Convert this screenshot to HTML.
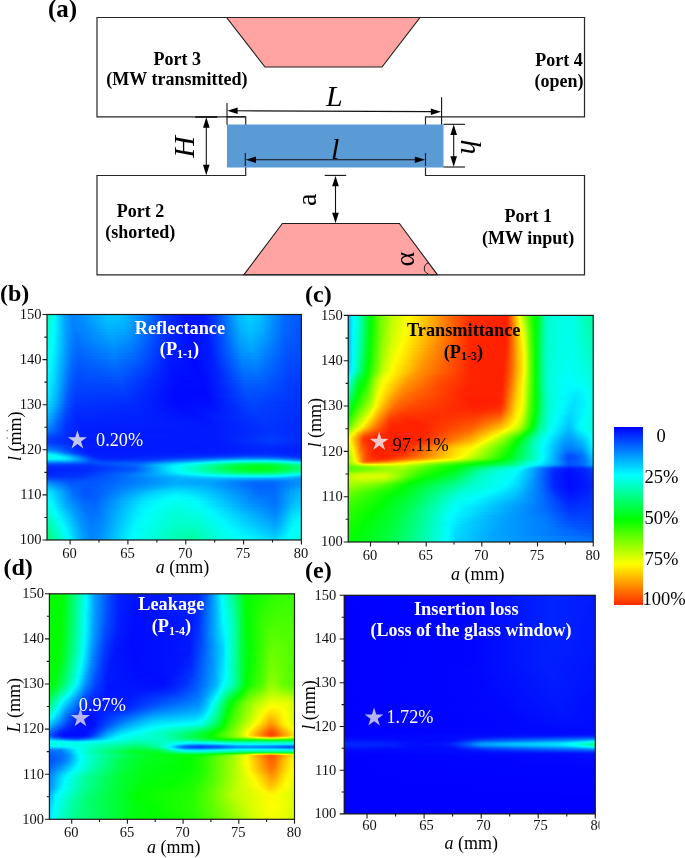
<!DOCTYPE html>
<html><head><meta charset="utf-8">
<style>
html,body{margin:0;padding:0;background:#fff;width:685px;height:858px;overflow:hidden}
body{position:relative;font-family:"Liberation Serif",serif}
.f{position:absolute;overflow:hidden}
.f i{display:block}
svg{position:absolute;left:0;top:0;will-change:transform}
svg text{font-family:"Liberation Serif",serif}
</style></head><body>
<div class="f" style="left:47px;top:314px;width:254px;height:226px"><i style="height:3px;background:linear-gradient(90deg,#00ffb2,#00faff 8px,#00a7ff 17px,#0087ff 24px,#008bff 33px,#00c3ff 59px,#00c2ff 74px,#0098ff 91px,#0037ff 117px,#0012ff 138px,#0015ff 156px,#0036ff 167px,#00baff 192px,#00d1ff 202px,#00c0ff 213px,#006aff 237px,#0059ff 253px)"></i><i style="height:3px;background:linear-gradient(90deg,#00ffb7,#00fffb 7px,#00a1ff 18px,#0085ff 25px,#008cff 35px,#00c0ff 60px,#00bdff 75px,#0092ff 92px,#0034ff 118px,#0011ff 140px,#0016ff 157px,#003aff 168px,#00b8ff 192px,#00ceff 202px,#00beff 213px,#0069ff 237px,#0058ff 253px)"></i><i style="height:3px;background:linear-gradient(90deg,#00ffbc,#00fffc 7px,#00a2ff 18px,#0085ff 25px,#008aff 35px,#00bcff 60px,#00b8ff 76px,#0088ff 94px,#0033ff 118px,#0010ff 140px,#0016ff 157px,#0038ff 168px,#00b9ff 193px,#00ccff 203px,#00b8ff 214px,#0068ff 237px,#0057ff 253px)"></i><i style="height:3px;background:linear-gradient(90deg,#00ffc1,#00fffe 7px,#00a3ff 18px,#0082ff 26px,#0089ff 36px,#00b8ff 61px,#00b2ff 77px,#0081ff 95px,#0032ff 118px,#0010ff 140px,#0015ff 157px,#0037ff 168px,#00b6ff 193px,#00c8ff 203px,#00b5ff 214px,#0067ff 237px,#0057ff 253px)"></i><i style="height:3px;background:linear-gradient(90deg,#00ffc6,#00feff 7px,#00a3ff 18px,#0081ff 26px,#0085ff 36px,#00b3ff 61px,#00aeff 77px,#007aff 96px,#002fff 119px,#000fff 141px,#0016ff 158px,#003fff 170px,#00b2ff 193px,#00c5ff 203px,#00b2ff 214px,#0065ff 237px,#0056ff 253px)"></i><i style="height:3px;background:linear-gradient(90deg,#00ffcb,#00fcff 7px,#009cff 19px,#007dff 27px,#0086ff 38px,#00afff 62px,#00a7ff 78px,#0070ff 98px,#002cff 120px,#000eff 142px,#0018ff 159px,#0042ff 171px,#00afff 193px,#00c1ff 203px,#00afff 214px,#0064ff 237px,#0055ff 253px)"></i><i style="height:3px;background:linear-gradient(90deg,#00ffcf,#00faff 7px,#0096ff 20px,#007aff 28px,#0086ff 40px,#00aaff 63px,#00a0ff 79px,#0065ff 100px,#0026ff 122px,#000dff 144px,#0019ff 160px,#004aff 173px,#00abff 193px,#00bdff 204px,#00a5ff 216px,#0062ff 237px,#0054ff 253px)"></i><i style="height:3px;background:linear-gradient(90deg,#00ffd4,#00fffe 6px,#008fff 21px,#0076ff 29px,#0089ff 44px,#00a5ff 65px,#0095ff 82px,#0027ff 121px,#000dff 144px,#0018ff 160px,#0047ff 173px,#00a6ff 193px,#00b8ff 204px,#00a1ff 216px,#005fff 238px,#0053ff 253px)"></i><i style="height:3px;background:linear-gradient(90deg,#00ffd8,#00feff 6px,#008eff 21px,#0074ff 29px,#0083ff 43px,#009fff 65px,#0090ff 82px,#0024ff 122px,#000cff 145px,#001aff 161px,#004aff 174px,#00a2ff 193px,#00b3ff 204px,#009eff 216px,#005dff 238px,#0052ff 253px)"></i><i style="height:3px;background:linear-gradient(90deg,#00ffdc,#00fcff 6px,#0087ff 22px,#0070ff 30px,#0087ff 48px,#009aff 68px,#0082ff 86px,#0024ff 121px,#000cff 145px,#0019ff 161px,#0047ff 174px,#009dff 193px,#00afff 204px,#0097ff 217px,#005bff 238px,#0051ff 253px)"></i><i style="height:3px;background:linear-gradient(90deg,#00ffe0,#00f9ff 6px,#0086ff 22px,#006dff 30px,#0082ff 48px,#0094ff 68px,#007dff 86px,#0023ff 121px,#000cff 145px,#001aff 162px,#004eff 176px,#009cff 194px,#00a9ff 205px,#008cff 219px,#0058ff 239px,#004fff 253px)"></i><i style="height:3px;background:linear-gradient(90deg,#00ffe4,#00feff 5px,#007eff 23px,#0069ff 31px,#008eff 66px,#007cff 84px,#0020ff 122px,#000bff 146px,#001cff 163px,#0055ff 178px,#0097ff 194px,#00a4ff 205px,#0088ff 219px,#0056ff 239px,#004eff 253px)"></i><i style="height:3px;background:linear-gradient(90deg,#00ffe7,#00fbff 5px,#007cff 23px,#0066ff 31px,#0088ff 67px,#0073ff 86px,#001eff 122px,#000bff 147px,#001aff 163px,#0052ff 178px,#0094ff 195px,#009eff 206px,#007cff 222px,#0052ff 241px,#004dff 253px)"></i><i style="height:3px;background:linear-gradient(90deg,#00ffea,#00f9ff 5px,#0075ff 24px,#0063ff 32px,#0082ff 67px,#006eff 86px,#001dff 122px,#000aff 147px,#001cff 164px,#0060ff 182px,#0093ff 197px,#0096ff 209px,#0051ff 240px,#004cff 253px)"></i><i style="height:3px;background:linear-gradient(90deg,#00ffed,#00fdff 4px,#0072ff 24px,#005fff 32px,#007dff 67px,#0067ff 87px,#001cff 122px,#000aff 148px,#001dff 165px,#0089ff 195px,#0092ff 207px,#004eff 241px,#004aff 253px)"></i><i style="height:3px;background:linear-gradient(90deg,#00fff0,#00faff 4px,#006fff 24px,#005cff 32px,#0077ff 68px,#005fff 89px,#001aff 122px,#0009ff 148px,#001cff 165px,#0086ff 196px,#008cff 208px,#004cff 241px,#0049ff 253px)"></i><i style="height:3px;background:linear-gradient(90deg,#00fff3,#00f8ff 4px,#006cff 24px,#0059ff 32px,#0071ff 68px,#005aff 89px,#0019ff 122px,#0009ff 149px,#001dff 166px,#0080ff 196px,#0085ff 209px,#004aff 241px,#0047ff 253px)"></i><i style="height:3px;background:linear-gradient(90deg,#00fff5,#00f6ff 4px,#0069ff 24px,#0056ff 32px,#006bff 69px,#0051ff 91px,#0016ff 123px,#0009ff 150px,#001eff 167px,#007aff 196px,#0080ff 209px,#0048ff 241px,#0045ff 253px)"></i><i style="height:3px;background:linear-gradient(90deg,#00fff7,#00f9ff 3px,#0066ff 24px,#0053ff 32px,#0065ff 70px,#0047ff 94px,#0014ff 124px,#0009ff 152px,#0021ff 169px,#0075ff 196px,#007aff 209px,#0046ff 242px,#0043ff 253px)"></i><i style="height:3px;background:linear-gradient(90deg,#00fff9,#00f2ff 4px,#0067ff 23px,#0050ff 31px,#005fff 71px,#003fff 96px,#0011ff 125px,#0009ff 153px,#0022ff 170px,#006fff 196px,#0074ff 210px,#0044ff 242px,#0041ff 253px)"></i><i style="height:3px;background:linear-gradient(90deg,#00fffb,#00e2ff 6px,#0064ff 23px,#004dff 31px,#005aff 72px,#0038ff 98px,#000fff 126px,#0009ff 155px,#0025ff 172px,#006bff 197px,#006eff 211px,#0042ff 242px,#003fff 253px)"></i><i style="height:3px;background:linear-gradient(90deg,#00fffe,#00d2ff 8px,#0060ff 23px,#004aff 31px,#0054ff 73px,#002fff 101px,#000cff 130px,#000bff 158px,#002bff 175px,#0066ff 197px,#0068ff 212px,#003fff 243px,#003dff 253px)"></i><i style="height:3px;background:linear-gradient(90deg,#00feff,#00c7ff 9px,#0062ff 22px,#0048ff 30px,#004eff 74px,#0024ff 106px,#0007ff 137px,#000eff 162px,#003dff 182px,#0064ff 200px,#005eff 216px,#003dff 244px,#003bff 253px)"></i><i style="height:3px;background:linear-gradient(90deg,#00fbff,#00c4ff 9px,#005eff 22px,#0045ff 30px,#0049ff 75px,#000bff 128px,#000aff 158px,#002cff 177px,#005dff 198px,#005cff 214px,#003bff 245px,#003aff 253px)"></i><i style="height:3px;background:linear-gradient(90deg,#00f8ff,#00c1ff 9px,#005aff 22px,#0042ff 30px,#0044ff 76px,#000bff 127px,#0009ff 158px,#0029ff 177px,#0059ff 199px,#0056ff 216px,#0039ff 246px,#0038ff 253px)"></i><i style="height:3px;background:linear-gradient(90deg,#00f5ff,#00beff 9px,#0057ff 22px,#0040ff 30px,#003fff 77px,#000aff 127px,#0009ff 159px,#002cff 179px,#0055ff 200px,#004fff 219px,#0037ff 248px,#0037ff 253px)"></i><i style="height:3px;background:linear-gradient(90deg,#00f1ff,#00c2ff 8px,#0059ff 21px,#003eff 29px,#003aff 79px,#0009ff 127px,#0009ff 160px,#002eff 181px,#0052ff 201px,#0048ff 222px,#0035ff 252px,#0035ff 253px)"></i><i style="height:3px;background:linear-gradient(90deg,#00edff,#00beff 8px,#0055ff 21px,#003bff 29px,#0035ff 80px,#0009ff 127px,#000aff 161px,#0035ff 185px,#004fff 204px,#0034ff 253px)"></i><i style="height:3px;background:linear-gradient(90deg,#00e8ff,#00b9ff 8px,#0051ff 21px,#0038ff 29px,#0031ff 82px,#0009ff 128px,#000bff 162px,#004aff 202px,#003fff 227px,#0033ff 253px)"></i><i style="height:3px;background:linear-gradient(90deg,#00e1ff,#00b2ff 8px,#004dff 21px,#0035ff 29px,#002eff 83px,#0009ff 130px,#000eff 164px,#0047ff 203px,#0036ff 237px,#0031ff 253px)"></i><i style="height:3px;background:linear-gradient(90deg,#00daff,#00abff 8px,#004eff 20px,#0033ff 28px,#0029ff 86px,#000aff 132px,#0011ff 166px,#0044ff 203px,#0030ff 253px)"></i><i style="height:3px;background:linear-gradient(90deg,#00d2ff,#00a3ff 8px,#0049ff 20px,#002fff 29px,#0027ff 87px,#000cff 135px,#0014ff 168px,#0041ff 205px,#002fff 253px)"></i><i style="height:3px;background:linear-gradient(90deg,#00caff,#0092ff 9px,#0043ff 20px,#002cff 29px,#0025ff 89px,#000dff 140px,#001aff 172px,#003eff 206px,#002eff 253px)"></i><i style="height:3px;background:linear-gradient(90deg,#00c0ff,#0089ff 9px,#0043ff 19px,#002aff 28px,#0022ff 92px,#000fff 146px,#0021ff 178px,#003cff 209px,#002dff 253px)"></i><i style="height:3px;background:linear-gradient(90deg,#00b6ff,#0080ff 9px,#003eff 19px,#0027ff 29px,#0020ff 94px,#0012ff 152px,#002cff 189px,#0039ff 217px,#002cff 253px)"></i><i style="height:2px;background:linear-gradient(90deg,#00adff,#0071ff 10px,#003aff 19px,#0024ff 30px,#0020ff 95px,#0014ff 156px,#0038ff 215px,#002bff 253px)"></i><i style="height:2px;background:linear-gradient(90deg,#00a6ff,#006bff 10px,#0037ff 19px,#0022ff 31px,#001fff 97px,#0016ff 159px,#0037ff 217px,#002bff 253px)"></i><i style="height:2px;background:linear-gradient(90deg,#009eff,#005fff 11px,#0031ff 20px,#0020ff 34px,#001eff 97px,#0017ff 161px,#0035ff 219px,#002aff 253px)"></i><i style="height:2px;background:linear-gradient(90deg,#0096ff,#0032ff 19px,#001fff 33px,#001dff 101px,#0019ff 164px,#0034ff 220px,#002aff 253px)"></i><i style="height:2px;background:linear-gradient(90deg,#008eff,#0030ff 19px,#001eff 34px,#001cff 103px,#001aff 166px,#0033ff 222px,#002aff 253px)"></i><i style="height:2px;background:linear-gradient(90deg,#0084ff,#002fff 19px,#001dff 35px,#001aff 107px,#001bff 169px,#0033ff 223px,#002aff 253px)"></i><i style="height:1px;background:linear-gradient(90deg,#0079ff,#002bff 20px,#001cff 38px,#0019ff 111px,#001bff 171px,#0034ff 224px,#002aff 253px)"></i><i style="height:1px;background:linear-gradient(90deg,#0071ff,#0028ff 21px,#001cff 40px,#0018ff 117px,#001cff 173px,#0034ff 224px,#002aff 253px)"></i><i style="height:1px;background:linear-gradient(90deg,#0068ff,#0026ff 22px,#001cff 43px,#001aff 168px,#0035ff 224px,#002bff 253px)"></i><i style="height:1px;background:linear-gradient(90deg,#005fff,#0022ff 24px,#001dff 50px,#001aff 168px,#0036ff 224px,#002bff 253px)"></i><i style="height:1px;background:linear-gradient(90deg,#0056ff,#0020ff 26px,#0019ff 166px,#0038ff 223px,#002bff 253px)"></i><i style="height:2px;background:linear-gradient(90deg,#004bff,#001cff 30px,#001aff 169px,#0039ff 223px,#002bff 253px)"></i><i style="height:3px;background:linear-gradient(90deg,#003fff,#001aff 35px,#001aff 170px,#003bff 223px,#002cff 253px)"></i><i style="height:2px;background:linear-gradient(90deg,#0040ff,#001aff 36px,#001aff 171px,#0039ff 223px,#002bff 253px)"></i><i style="height:1px;background:linear-gradient(90deg,#0048ff,#002dff 19px,#0019ff 38px,#001aff 172px,#0035ff 223px,#0029ff 253px)"></i><i style="height:1px;background:linear-gradient(90deg,#004fff,#0038ff 16px,#001aff 36px,#001aff 172px,#0032ff 223px,#0027ff 253px)"></i><i style="height:1px;background:linear-gradient(90deg,#0057ff,#0042ff 14px,#001cff 34px,#0019ff 171px,#002eff 223px,#0025ff 253px)"></i><i style="height:1px;background:linear-gradient(90deg,#0061ff,#004bff 13px,#001eff 32px,#0015ff 154px,#002bff 223px,#0023ff 253px)"></i><i style="height:1px;background:linear-gradient(90deg,#006cff,#0055ff 12px,#0021ff 31px,#0019ff 52px,#001aff 173px,#0029ff 220px,#0021ff 253px)"></i><i style="height:1px;background:linear-gradient(90deg,#0078ff,#005cff 12px,#0026ff 29px,#0018ff 44px,#001aff 174px,#0027ff 219px,#0020ff 253px)"></i><i style="height:1px;background:linear-gradient(90deg,#0087ff,#006aff 11px,#002dff 27px,#0019ff 41px,#001aff 174px,#0026ff 218px,#001fff 253px)"></i><i style="height:1px;background:linear-gradient(90deg,#009aff,#0076ff 11px,#0033ff 26px,#0019ff 40px,#001aff 173px,#0026ff 218px,#001fff 253px)"></i><i style="height:1px;background:linear-gradient(90deg,#00b0ff,#008cff 10px,#003aff 26px,#001bff 39px,#001bff 172px,#0027ff 219px,#001fff 253px)"></i><i style="height:1px;background:linear-gradient(90deg,#00caff,#00a2ff 10px,#0040ff 27px,#001eff 39px,#001bff 166px,#0029ff 218px,#0020ff 253px)"></i><i style="height:1px;background:linear-gradient(90deg,#00e5ff,#00bdff 10px,#0045ff 29px,#0020ff 40px,#0019ff 69px,#0021ff 172px,#002cff 219px,#0020ff 253px)"></i><i style="height:1px;background:linear-gradient(90deg,#00feff,#00d9ff 10px,#0041ff 33px,#0021ff 43px,#001aff 69px,#0025ff 166px,#0033ff 217px,#0022ff 253px)"></i><i style="height:1px;background:linear-gradient(90deg,#00ffed,#00fbff 8px,#00b9ff 19px,#0041ff 36px,#0021ff 46px,#001bff 69px,#002bff 159px,#003fff 214px,#0026ff 253px)"></i><i style="height:1px;background:linear-gradient(90deg,#00ffe4,#00fbff 12px,#00b6ff 23px,#0046ff 38px,#0022ff 48px,#001cff 68px,#0033ff 153px,#0050ff 209px,#0041ff 236px,#002dff 253px)"></i><i style="height:1px;background:linear-gradient(90deg,#00ffe7,#00fdff 14px,#00c3ff 24px,#0049ff 40px,#0024ff 50px,#001eff 69px,#0036ff 137px,#0068ff 202px,#005fff 230px,#0039ff 253px)"></i><i style="height:1px;background:linear-gradient(90deg,#00fff7,#00faff 14px,#00d2ff 23px,#004aff 42px,#0027ff 52px,#0025ff 76px,#0032ff 110px,#005aff 154px,#0088ff 199px,#0082ff 227px,#004cff 253px)"></i><i style="height:1px;background:linear-gradient(90deg,#00ecff,#00e5ff 16px,#00bcff 26px,#004eff 43px,#002dff 54px,#0034ff 101px,#0074ff 153px,#00adff 193px,#00b2ff 220px,#0098ff 236px,#0069ff 253px)"></i><i style="height:1px;background:linear-gradient(90deg,#00caff,#00c7ff 18px,#009dff 29px,#004fff 44px,#0036ff 56px,#003dff 98px,#0072ff 132px,#009cff 156px,#00dcff 192px,#00e7ff 216px,#00d3ff 232px,#0090ff 253px)"></i><i style="height:1px;background:linear-gradient(90deg,#00a5ff,#00a4ff 19px,#007bff 32px,#004aff 47px,#0040ff 63px,#004bff 97px,#008dff 129px,#00b6ff 151px,#00fffd 182px,#00ffde 206px,#00ffe6 225px,#00faff 237px,#00bfff 253px)"></i><i style="height:1px;background:linear-gradient(90deg,#0082ff,#007fff 21px,#004dff 45px,#004dff 68px,#0059ff 95px,#00acff 128px,#00daff 150px,#00fff9 164px,#00ffb3 193px,#00ffa3 213px,#00ffb4 229px,#00ffea 244px,#00fbff 250px,#00f3ff 253px)"></i><i style="height:1px;background:linear-gradient(90deg,#0063ff,#005dff 24px,#0047ff 44px,#0063ff 93px,#00caff 128px,#00fffc 151px,#00ff8d 187px,#00ff6f 206px,#00ff74 223px,#00ff9c 238px,#00ffd9 253px)"></i><i style="height:1px;background:linear-gradient(90deg,#004bff,#0041ff 29px,#0041ff 47px,#006aff 92px,#00e0ff 127px,#00fffc 142px,#00ff65 187px,#00ff43 206px,#00ff47 222px,#00ff71 238px,#00ffaf 253px)"></i><i style="height:1px;background:linear-gradient(90deg,#0039ff,#0036ff 43px,#006aff 91px,#00c4ff 114px,#00feff 133px,#00ffc3 153px,#00ff4a 187px,#00ff26 205px,#00ff27 221px,#00ff53 238px,#00ff91 253px)"></i><i style="height:1px;background:linear-gradient(90deg,#002cff,#0030ff 42px,#0062ff 89px,#00a5ff 106px,#00f7ff 127px,#00fff5 134px,#00ffad 156px,#00ff3c 187px,#00ff17 205px,#00ff18 221px,#00ff43 238px,#00ff81 253px)"></i><i style="height:2px;background:linear-gradient(90deg,#0024ff,#002bff 41px,#0057ff 87px,#0090ff 102px,#00f2ff 125px,#00fff8 132px,#00ffaa 156px,#00ff38 187px,#00ff13 205px,#00ff14 221px,#00ff3f 238px,#00ff7d 253px)"></i><i style="height:1px;background:linear-gradient(90deg,#0021ff,#002aff 39px,#0057ff 87px,#008dff 102px,#00f4ff 126px,#00fff6 133px,#00ffa0 159px,#00ff3b 188px,#00ff19 206px,#00ff1c 222px,#00ff49 239px,#00ff84 253px)"></i><i style="height:1px;background:linear-gradient(90deg,#0021ff,#002bff 39px,#005cff 87px,#0093ff 103px,#00f5ff 127px,#00fff4 134px,#00ff9a 162px,#00ff45 188px,#00ff25 206px,#00ff28 222px,#00ff52 238px,#00ff91 253px)"></i><i style="height:1px;background:linear-gradient(90deg,#0022ff,#002cff 38px,#0064ff 87px,#0098ff 104px,#00f5ff 128px,#00fff6 135px,#00ff90 168px,#00ff4e 192px,#00ff38 211px,#00ff44 226px,#00ff6f 240px,#00ffa5 253px)"></i><i style="height:1px;background:linear-gradient(90deg,#0023ff,#002eff 38px,#006bff 86px,#009dff 105px,#00f4ff 130px,#00fff6 138px,#00ff72 187px,#00ff57 208px,#00ff5f 225px,#00ff87 239px,#00ffc0 253px)"></i><i style="height:1px;background:linear-gradient(90deg,#0025ff,#0030ff 37px,#006dff 83px,#00a4ff 107px,#00efff 132px,#00fff8 143px,#00ff94 186px,#00ff7c 210px,#00ff87 227px,#00ffb2 241px,#00ffe0 253px)"></i><i style="height:1px;background:linear-gradient(90deg,#0027ff,#0032ff 37px,#006fff 81px,#00aaff 110px,#00e9ff 136px,#00fffa 151px,#00ffb8 187px,#00ffa6 214px,#00ffb8 231px,#00fdff 253px)"></i><i style="height:1px;background:linear-gradient(90deg,#002aff,#0034ff 36px,#0070ff 80px,#00b2ff 115px,#00f2ff 153px,#00fff9 165px,#00ffd5 205px,#00ffdc 227px,#00fcff 242px,#00deff 253px)"></i><i style="height:1px;background:linear-gradient(90deg,#0030ff,#0035ff 33px,#0069ff 74px,#00cdff 139px,#00f6ff 184px,#00fbff 222px,#00e1ff 239px,#00c4ff 253px)"></i><i style="height:1px;background:linear-gradient(90deg,#003bff,#0038ff 30px,#0061ff 68px,#00bcff 134px,#00d4ff 177px,#00cfff 230px,#00b0ff 253px)"></i><i style="height:1px;background:linear-gradient(90deg,#0049ff,#003cff 27px,#005cff 63px,#00b3ff 131px,#00beff 172px,#00a3ff 253px)"></i><i style="height:1px;background:linear-gradient(90deg,#0058ff,#0042ff 26px,#005bff 61px,#00aeff 130px,#00afff 170px,#0094ff 219px,#009cff 253px)"></i><i style="height:1px;background:linear-gradient(90deg,#0069ff,#0048ff 25px,#005bff 59px,#00acff 129px,#00a8ff 167px,#007fff 212px,#0088ff 235px,#0097ff 253px)"></i><i style="height:1px;background:linear-gradient(90deg,#0079ff,#004eff 24px,#0059ff 56px,#00abff 129px,#00a5ff 165px,#0072ff 209px,#0075ff 229px,#0096ff 253px)"></i><i style="height:1px;background:linear-gradient(90deg,#0088ff,#0054ff 24px,#0059ff 54px,#00acff 129px,#00a4ff 163px,#006aff 207px,#006bff 227px,#0096ff 253px)"></i><i style="height:1px;background:linear-gradient(90deg,#0094ff,#0058ff 24px,#0056ff 50px,#00afff 130px,#00a5ff 162px,#0067ff 206px,#0066ff 226px,#0097ff 253px)"></i><i style="height:1px;background:linear-gradient(90deg,#00a0ff,#005cff 24px,#0054ff 46px,#00b2ff 130px,#00a9ff 160px,#0066ff 206px,#0065ff 226px,#0099ff 253px)"></i><i style="height:1px;background:linear-gradient(90deg,#00adff,#0060ff 24px,#0053ff 43px,#00b8ff 130px,#00adff 159px,#0065ff 207px,#0064ff 226px,#009bff 253px)"></i><i style="height:1px;background:linear-gradient(90deg,#00b9ff,#0061ff 25px,#0053ff 42px,#00beff 129px,#00b1ff 158px,#0066ff 208px,#0066ff 227px,#009fff 253px)"></i><i style="height:1px;background:linear-gradient(90deg,#00c4ff,#0064ff 25px,#0053ff 40px,#0067ff 59px,#00c5ff 128px,#00b8ff 156px,#0066ff 209px,#0066ff 227px,#00a1ff 252px,#00a3ff 253px)"></i><i style="height:1px;background:linear-gradient(90deg,#00cfff,#0067ff 25px,#0053ff 39px,#0063ff 56px,#00ccff 127px,#00c0ff 153px,#0066ff 211px,#0069ff 228px,#00a4ff 251px,#00a6ff 253px)"></i><i style="height:1px;background:linear-gradient(90deg,#00d9ff,#0069ff 25px,#0053ff 38px,#0061ff 54px,#00d2ff 124px,#00ccff 147px,#0067ff 212px,#0069ff 228px,#00a7ff 250px,#00aaff 253px)"></i><i style="height:1px;background:linear-gradient(90deg,#00e2ff,#0069ff 26px,#0053ff 39px,#0062ff 54px,#00d3ff 118px,#00daff 136px,#00b2ff 168px,#0069ff 212px,#006aff 228px,#00abff 250px,#00aeff 253px)"></i><i style="height:2px;background:linear-gradient(90deg,#00ecff,#006cff 26px,#0054ff 38px,#005fff 52px,#00d1ff 110px,#00e5ff 131px,#00cbff 156px,#006bff 213px,#006bff 228px,#00aeff 249px,#00b3ff 253px)"></i><i style="height:2px;background:linear-gradient(90deg,#00f5ff,#0071ff 26px,#0055ff 38px,#005fff 51px,#00d4ff 105px,#00f0ff 130px,#00d8ff 153px,#006fff 212px,#006dff 228px,#00b3ff 249px,#00b8ff 253px)"></i><i style="height:2px;background:linear-gradient(90deg,#00fbff,#0079ff 25px,#005aff 37px,#005dff 49px,#00d9ff 102px,#00faff 129px,#00e6ff 150px,#0076ff 210px,#006eff 228px,#0096ff 239px,#00baff 251px,#00bcff 253px)"></i><i style="height:2px;background:linear-gradient(90deg,#00fffe,#0082ff 24px,#005eff 37px,#005fff 49px,#00ddff 99px,#00fffc 125px,#00f6ff 146px,#007eff 207px,#006fff 228px,#008eff 237px,#00baff 249px,#00c0ff 253px)"></i><i style="height:2px;background:linear-gradient(90deg,#00fff9,#00ecff 5px,#008fff 22px,#0064ff 36px,#0060ff 48px,#00e3ff 98px,#00fffb 119px,#00fff5 136px,#00f6ff 150px,#0086ff 205px,#0070ff 228px,#0090ff 237px,#00beff 249px,#00c4ff 253px)"></i><i style="height:3px;background:linear-gradient(90deg,#00fff2,#00f9ff 4px,#0099ff 21px,#006aff 36px,#0064ff 48px,#00a0ff 70px,#00ebff 98px,#00fff9 115px,#00ffec 133px,#00fbff 152px,#008eff 203px,#0072ff 228px,#008eff 236px,#00c1ff 248px,#00c9ff 253px)"></i><i style="height:3px;background:linear-gradient(90deg,#00ffe8,#00fcff 5px,#00a1ff 21px,#006dff 37px,#0067ff 48px,#0098ff 66px,#00ebff 95px,#00fff9 110px,#00ffe5 131px,#00fff9 151px,#00e2ff 166px,#0095ff 204px,#0076ff 228px,#008dff 235px,#00c5ff 247px,#00d1ff 253px)"></i><i style="height:2px;background:linear-gradient(90deg,#00ffe0,#00fdff 6px,#00a9ff 21px,#0072ff 37px,#006aff 48px,#0098ff 65px,#00ecff 93px,#00fff9 107px,#00ffe0 130px,#00fff2 151px,#00f5ff 161px,#00a0ff 202px,#007aff 228px,#0092ff 235px,#00ccff 247px,#00d8ff 253px)"></i><i style="height:2px;background:linear-gradient(90deg,#00ffd9,#00fdff 7px,#00a6ff 23px,#0073ff 38px,#006eff 49px,#00a6ff 68px,#00f1ff 94px,#00fff9 105px,#00ffdd 130px,#00ffee 151px,#00f9ff 162px,#00a6ff 202px,#007eff 228px,#0096ff 235px,#00cfff 246px,#00deff 253px)"></i><i style="height:2px;background:linear-gradient(90deg,#00ffd1,#00feff 8px,#00a3ff 25px,#0072ff 40px,#0071ff 50px,#00b6ff 72px,#00faff 97px,#00ffda 130px,#00ffe9 151px,#00faff 164px,#00adff 202px,#0082ff 228px,#009bff 235px,#00d5ff 246px,#00e4ff 253px)"></i><i style="height:2px;background:linear-gradient(90deg,#00ffca,#00fefe 9px,#009bff 28px,#0073ff 41px,#0075ff 51px,#00f3ff 92px,#00fff8 102px,#00ffd7 129px,#00ffe4 151px,#00faff 166px,#00b2ff 203px,#0086ff 228px,#009aff 234px,#00dbff 246px,#00eaff 253px)"></i><i style="height:2px;background:linear-gradient(90deg,#00ffc3,#00fefe 10px,#0093ff 31px,#0073ff 43px,#007cff 53px,#00f1ff 90px,#00fff9 100px,#00ffd5 129px,#00ffe0 151px,#00f9ff 169px,#00b4ff 206px,#008bff 228px,#00a0ff 234px,#00ddff 245px,#00efff 253px)"></i><i style="height:2px;background:linear-gradient(90deg,#00ffbb,#00faff 12px,#008fff 33px,#0075ff 44px,#0083ff 55px,#00f1ff 89px,#00fff8 99px,#00ffd2 129px,#00ffdc 151px,#00f9ff 171px,#009cff 221px,#0091ff 229px,#00b1ff 236px,#00e6ff 246px,#00f5ff 253px)"></i><i style="height:2px;background:linear-gradient(90deg,#00ffb4,#00faff 13px,#0092ff 33px,#0077ff 44px,#0085ff 55px,#00f1ff 88px,#00fff9 97px,#00ffcf 128px,#00ffd7 151px,#00f9ff 173px,#00a4ff 220px,#0095ff 228px,#00aaff 234px,#00e8ff 245px,#00f9ff 253px)"></i><i style="height:2px;background:linear-gradient(90deg,#00ffac,#00fbff 14px,#0091ff 34px,#0078ff 45px,#008aff 56px,#00f4ff 88px,#00fff7 97px,#00ffcc 129px,#00ffd3 151px,#00faff 175px,#00a9ff 220px,#009aff 228px,#00afff 234px,#00ecff 245px,#00feff 253px)"></i><i style="height:2px;background:linear-gradient(90deg,#00ffa5,#00fbff 15px,#0094ff 34px,#007aff 44px,#0087ff 54px,#00f6ff 88px,#00fff4 97px,#00ffc8 130px,#00ffcc 150px,#00faff 177px,#00b2ff 219px,#00a0ff 228px,#00b5ff 234px,#00f1ff 245px,#00fffc 253px)"></i><i style="height:2px;background:linear-gradient(90deg,#00ff9d,#00fbff 16px,#0093ff 35px,#007bff 45px,#008fff 56px,#00f6ff 87px,#00fff4 96px,#00ffc4 130px,#00ffc8 150px,#00faff 179px,#00b7ff 219px,#00a5ff 228px,#00baff 234px,#00f5ff 245px,#00fff8 253px)"></i><i style="height:2px;background:linear-gradient(90deg,#00ff96,#00faff 17px,#0096ff 35px,#007dff 45px,#008dff 55px,#00f8ff 87px,#00ffec 99px,#00ffc0 132px,#00ffc3 150px,#00fbff 181px,#00c0ff 218px,#00acff 228px,#00c0ff 234px,#00faff 245px,#00fff5 253px)"></i><i style="height:2px;background:linear-gradient(90deg,#00ff8e,#00fffe 17px,#0098ff 35px,#007eff 45px,#008fff 55px,#00fbff 87px,#00ffbc 131px,#00ffbb 148px,#00fdff 183px,#00c5ff 218px,#00b2ff 228px,#00ccff 235px,#00feff 245px,#00fff1 253px)"></i><i style="height:2px;background:linear-gradient(90deg,#00ff87,#00fefe 18px,#009bff 35px,#0081ff 44px,#008bff 53px,#00fdff 87px,#00ffb9 131px,#00ffb6 148px,#00feff 185px,#00cbff 218px,#00b9ff 228px,#00d2ff 235px,#00feff 244px,#00ffee 253px)"></i><i style="height:2px;background:linear-gradient(90deg,#00ff7f,#00fdff 19px,#009dff 35px,#0082ff 44px,#008dff 53px,#00ffff 87px,#00ffb7 129px,#00ffaf 146px,#00fffb 185px,#00d9ff 214px,#00c0ff 228px,#00d9ff 235px,#00fffe 243px,#00ffeb 253px)"></i><i style="height:2px;background:linear-gradient(90deg,#00ff77,#00ffd8 14px,#00fbff 20px,#009fff 35px,#0083ff 44px,#008fff 53px,#00feff 86px,#00ffb3 130px,#00ffaa 146px,#00fff3 182px,#00f5ff 200px,#00c8ff 228px,#00e4ff 236px,#00fffe 242px,#00ffe8 253px)"></i><i style="height:3px;background:linear-gradient(90deg,#00ff6e,#00ffb9 11px,#00faff 21px,#009dff 36px,#0084ff 45px,#0098ff 55px,#00feff 85px,#00ffa7 135px,#00ffa5 147px,#00ffe6 176px,#00f8ff 202px,#00d1ff 228px,#00f1ff 237px,#00fff8 242px,#00ffe4 253px)"></i></div>
<div class="f" style="left:348px;top:315px;width:245px;height:227px"><i style="height:2px;background:linear-gradient(90deg,#00aeff,#00efff 4px,#00fffa 6px,#00ffc5 11px,#00ff29 20px,#01ff00 23px,#72ff00 33px,#c0ff00 44px,#fffe00 60px,#ffb900 81px,#ff6900 102px,#ff2f00 122px,#ff1e00 158px,#ff2900 160px,#ffad00 167px,#fffb00 171px,#49ff00 181px,#07ff00 186px,#00ff14 189px,#00ff40 192px,#00ffb3 197px,#00ffca 199px,#00ffe7 213px,#00ffe6 225px,#00ffb0 239px,#00ffa6 244px)"></i><i style="height:2px;background:linear-gradient(90deg,#00aeff,#00efff 4px,#00fffa 6px,#00ffc5 11px,#00ff29 20px,#01ff00 23px,#72ff00 33px,#c0ff00 44px,#fffe00 60px,#ffb400 82px,#ff6300 104px,#ff2e00 122px,#ff1e00 158px,#ff2900 160px,#fff700 171px,#e0ff00 173px,#2dff00 183px,#00ff02 187px,#00ff2f 191px,#00ffb3 197px,#00ffca 199px,#00ffe7 213px,#00ffe6 225px,#00ffb1 239px,#00ffa7 244px)"></i><i style="height:2px;background:linear-gradient(90deg,#00aeff,#00efff 4px,#00fffa 6px,#00ffc5 11px,#00ff29 20px,#01ff00 23px,#72ff00 33px,#c1ff00 44px,#fffd00 60px,#ffaf00 83px,#ff5a00 107px,#ff2d00 123px,#ff1e00 158px,#ff2a00 160px,#fbff00 172px,#30ff00 183px,#00ff01 187px,#00ff31 191px,#00ffb4 197px,#00ffcb 199px,#00ffe7 213px,#00ffe6 225px,#00ffb3 239px,#00ffa8 244px)"></i><i style="height:2px;background:linear-gradient(90deg,#00aeff,#00efff 4px,#00fffa 6px,#00ffc5 11px,#00ff28 20px,#02ff00 23px,#73ff00 33px,#c2ff00 44px,#feff00 59px,#ffaf00 83px,#ff5900 107px,#ff2c00 123px,#ff1f00 158px,#ff2a00 160px,#fffe00 172px,#80ff00 179px,#33ff00 183px,#00ff00 187px,#00ff32 191px,#00ffb4 197px,#00ffcb 199px,#00ffe7 213px,#00ffe6 225px,#00ffb2 240px,#00ffa9 244px)"></i><i style="height:2px;background:linear-gradient(90deg,#00aeff,#00efff 4px,#00fffa 6px,#00ffc4 11px,#00ff28 20px,#02ff00 23px,#74ff00 33px,#c2ff00 44px,#ffff00 59px,#ffa500 85px,#ff2e00 121px,#ff1f00 158px,#ff2a00 160px,#fff900 172px,#c1ff00 176px,#35ff00 183px,#01ff00 187px,#00ff34 191px,#00ffb5 197px,#00ffcf 200px,#00ffe9 216px,#00ffe6 225px,#00ffb1 241px,#00ffab 244px)"></i><i style="height:2px;background:linear-gradient(90deg,#00aeff,#00efff 4px,#00fffa 6px,#00ffc3 11px,#00ff27 20px,#03ff00 23px,#74ff00 33px,#beff00 43px,#fdff00 58px,#ffa400 85px,#ff2d00 121px,#ff1f00 158px,#ff2b00 160px,#fff400 172px,#faff00 173px,#a3ff00 178px,#38ff00 183px,#02ff00 187px,#00ff36 191px,#00ffb5 197px,#00ffcf 200px,#00ffe9 216px,#00ffe6 225px,#00ffae 243px,#00ffac 244px)"></i><i style="height:3px;background:linear-gradient(90deg,#00afff,#00efff 4px,#00fffa 6px,#00ffc2 11px,#00ff26 20px,#03ff00 23px,#76ff00 33px,#c0ff00 43px,#feff00 58px,#ff9a00 87px,#ff2b00 122px,#ff2000 158px,#ff2b00 160px,#fffd00 173px,#abff00 178px,#3bff00 183px,#03ff00 187px,#00ff38 191px,#00ffb6 197px,#00ffcf 200px,#00ffea 216px,#00ffe4 226px,#00ffae 244px)"></i><i style="height:3px;background:linear-gradient(90deg,#00afff,#00fbff 5px,#00ffcf 10px,#00ff25 20px,#04ff00 23px,#77ff00 33px,#c2ff00 43px,#fffd00 58px,#ff2d00 120px,#ff1f00 157px,#ff2c00 160px,#fff700 173px,#eaff00 175px,#b4ff00 178px,#51ff00 182px,#04ff00 187px,#00ff28 190px,#00ffb6 197px,#00ffcf 200px,#00ffea 216px,#00ffe4 226px,#00ffb0 244px)"></i><i style="height:3px;background:linear-gradient(90deg,#00b0ff,#00fbff 5px,#00ffcd 10px,#00ff23 20px,#06ff00 23px,#83ff00 34px,#caff00 44px,#fffe00 57px,#ff2c00 120px,#ff1e00 156px,#ff2d00 160px,#fff100 173px,#fffe00 174px,#d1ff00 177px,#41ff00 183px,#05ff00 187px,#00ff2a 190px,#00ffb7 197px,#00ffcf 200px,#00ffea 216px,#00ffe5 226px,#00ffb2 244px)"></i><i style="height:3px;background:linear-gradient(90deg,#00b1ff,#00fcff 5px,#00ffcb 10px,#00ff22 20px,#00ff06 22px,#45ff00 28px,#9fff00 37px,#e1ff00 48px,#fffb00 57px,#ff2900 121px,#ff2000 157px,#ff2f00 160px,#ffec00 173px,#f8ff00 175px,#c2ff00 178px,#59ff00 182px,#15ff00 186px,#00ff09 188px,#00ff7f 194px,#00ffb7 197px,#00ffcf 200px,#00ffeb 216px,#00ffe6 226px,#00ffb5 244px)"></i><i style="height:3px;background:linear-gradient(90deg,#00b2ff,#00fcff 5px,#00ffba 11px,#00ff2e 19px,#00ff04 22px,#92ff00 35px,#d6ff00 45px,#fffb00 56px,#ff4900 111px,#ff2600 123px,#ff2000 157px,#ff3000 160px,#ffe800 173px,#feff00 175px,#c8ff00 178px,#5cff00 182px,#16ff00 186px,#00ff09 188px,#00ffb7 197px,#00ffcf 200px,#00ffeb 216px,#00ffe7 226px,#00ffb7 244px)"></i><i style="height:3px;background:linear-gradient(90deg,#00b3ff,#00fdff 5px,#00ffb7 11px,#00ff2c 19px,#00ff02 22px,#8cff00 34px,#cfff00 43px,#fffe00 54px,#ff6400 101px,#ff2600 123px,#ff2100 157px,#ff3100 160px,#ffe400 173px,#fffb00 175px,#e3ff00 177px,#49ff00 183px,#08ff00 187px,#00ff1a 189px,#00ffb8 197px,#00ffcf 200px,#00ffec 216px,#00ffe8 226px,#00ffb9 244px)"></i><i style="height:3px;background:linear-gradient(90deg,#00b4ff,#00feff 5px,#00ffb3 11px,#00ff29 19px,#00ff00 22px,#8fff00 34px,#d3ff00 43px,#fffe00 53px,#ff8600 89px,#ff2500 123px,#ff2200 157px,#ff3300 160px,#ffd600 172px,#f9ff00 176px,#b5ff00 179px,#61ff00 182px,#19ff00 186px,#00ff08 188px,#00ffa9 196px,#00ffcb 199px,#00ffea 213px,#00ffe9 226px,#00ffbc 244px)"></i><i style="height:3px;background:linear-gradient(90deg,#00b5ff,#00ffff 5px,#00ffb0 11px,#00ff26 19px,#03ff00 22px,#93ff00 34px,#d7ff00 43px,#fffe00 52px,#ffa200 79px,#ff2500 123px,#ff2200 157px,#ff3400 160px,#ffd300 172px,#fdff00 176px,#b8ff00 179px,#64ff00 182px,#0aff00 187px,#00ff08 188px,#00ffa9 196px,#00ffcb 199px,#00ffea 213px,#00ffea 226px,#00ffbe 244px)"></i><i style="height:3px;background:linear-gradient(90deg,#00b7ff,#00fffe 5px,#00ffac 11px,#00ff31 18px,#06ff00 22px,#98ff00 34px,#dcff00 43px,#fffd00 51px,#ffa000 78px,#ff2400 123px,#ff2000 156px,#ff3600 160px,#ffd100 172px,#fffe00 176px,#d7ff00 178px,#66ff00 182px,#0bff00 187px,#00ff08 188px,#00ffa9 196px,#00ffcb 199px,#00ffeb 213px,#00ffeb 226px,#00ffc1 244px)"></i><i style="height:3px;background:linear-gradient(90deg,#00b9ff,#00fffd 5px,#00ff95 12px,#00ff1f 19px,#00ff04 21px,#a6ff00 35px,#e6ff00 44px,#fffc00 50px,#ff9e00 77px,#ff2400 123px,#ff2100 156px,#ff3800 160px,#ffd000 172px,#fffc00 176px,#d9ff00 178px,#67ff00 182px,#0bff00 187px,#00ff08 188px,#00ff98 195px,#00ffc4 198px,#00ffe2 207px,#00fff0 223px,#00ffc3 244px)"></i><i style="height:3px;background:linear-gradient(90deg,#00bbff,#00fffc 5px,#00ff90 12px,#00ff2a 18px,#00ff01 21px,#abff00 35px,#ebff00 44px,#fffb00 49px,#ff9c00 76px,#ff2300 123px,#ff2100 156px,#ff3a00 160px,#ffcf00 172px,#fffb00 176px,#daff00 178px,#69ff00 182px,#0cff00 187px,#00ff07 188px,#00ff99 195px,#00ffc4 198px,#00ffe3 207px,#00fff1 223px,#00ffcc 242px,#00ffc6 244px)"></i><i style="height:3px;background:linear-gradient(90deg,#00bdff,#00fffa 5px,#00ff78 13px,#00ff18 19px,#03ff00 21px,#b1ff00 35px,#f0ff00 44px,#fffb00 48px,#ff9900 75px,#ff2300 123px,#ff2100 156px,#ff4600 161px,#ffce00 172px,#fffa00 176px,#f3ff00 177px,#54ff00 183px,#0cff00 187px,#00ff07 188px,#00ff99 195px,#00ffc4 198px,#00ffe3 207px,#00fff2 223px,#00ffcf 242px,#00ffc9 244px)"></i><i style="height:3px;background:linear-gradient(90deg,#00bfff,#00f7ff 4px,#00ffea 6px,#00ff21 18px,#06ff00 21px,#b6ff00 35px,#f6ff00 44px,#fff600 48px,#ff9400 75px,#ff2300 123px,#ff2200 156px,#ff4800 161px,#ffce00 172px,#fff900 176px,#f3ff00 177px,#54ff00 183px,#0cff00 187px,#00ff07 188px,#00ff87 194px,#00ffc4 198px,#00ffe4 207px,#00fff3 223px,#00ffd6 241px,#00ffcb 244px)"></i><i style="height:3px;background:linear-gradient(90deg,#00c2ff,#00f8ff 4px,#00ffe7 6px,#00ff2b 17px,#00ff02 20px,#bcff00 35px,#fbff00 44px,#ff9100 74px,#ff2300 123px,#ff2200 156px,#ff5400 162px,#ffcd00 172px,#fff900 176px,#f4ff00 177px,#55ff00 183px,#0dff00 187px,#00ff07 188px,#00ff87 194px,#00ffc4 198px,#00ffe5 207px,#00fff4 222px,#00ffdc 240px,#00ffce 244px)"></i><i style="height:2px;background:linear-gradient(90deg,#00c5ff,#00fbff 4px,#00ffae 9px,#00ff27 17px,#02ff00 20px,#b7ff00 34px,#f5ff00 42px,#fff900 45px,#ff8f00 73px,#ff2300 123px,#ff2000 155px,#ff4100 160px,#ff8500 166px,#ffce00 172px,#fff900 176px,#f3ff00 177px,#55ff00 183px,#0dff00 187px,#00ff07 188px,#00ff88 194px,#00ffc4 198px,#00ffe5 207px,#00fff5 222px,#00ffde 240px,#00ffd0 244px)"></i><i style="height:1px;background:linear-gradient(90deg,#00caff,#00fffe 4px,#00ff40 15px,#05ff00 20px,#bcff00 34px,#f8ff00 42px,#ffe500 49px,#ff8900 74px,#ff2300 123px,#ff2000 155px,#ff4300 160px,#ff8600 166px,#ffce00 172px,#fffa00 176px,#f2ff00 177px,#56ff00 183px,#0dff00 187px,#00ff07 188px,#00ff88 194px,#00ffc4 198px,#00ffe6 207px,#00fff6 222px,#00ffdf 240px,#00ffd2 244px)"></i><i style="height:1px;background:linear-gradient(90deg,#00cfff,#00f6ff 3px,#00ffe8 5px,#00ff59 13px,#00ff05 19px,#75ff00 28px,#caff00 35px,#fffe00 43px,#ff9200 70px,#ff2300 123px,#ff2000 155px,#ff4300 160px,#ff8700 166px,#ffcf00 172px,#fffb00 176px,#d9ff00 178px,#6bff00 182px,#0dff00 187px,#00ff07 188px,#00ff88 194px,#00ffc4 198px,#00ffe7 207px,#00fff7 221px,#00ffe3 239px,#00ffd3 244px)"></i><i style="height:1px;background:linear-gradient(90deg,#00d5ff,#00fdff 3px,#00ff51 13px,#00ff02 19px,#bcff00 33px,#f2ff00 40px,#fff600 44px,#ff9300 69px,#ff2300 122px,#ff2000 155px,#ff4e00 161px,#ffa300 168px,#fffd00 176px,#d7ff00 178px,#6bff00 182px,#0dff00 187px,#00ff07 188px,#00ff87 194px,#00ffc4 198px,#00ffe7 207px,#00fff8 221px,#00ffe1 240px,#00ffd4 244px)"></i><i style="height:1px;background:linear-gradient(90deg,#00dcff,#00fff9 3px,#00ff65 11px,#01ff00 19px,#b7ff00 32px,#f0ff00 39px,#fff900 43px,#ff9d00 65px,#ff5b00 92px,#ff2300 123px,#ff2100 155px,#ff4f00 161px,#ffd100 172px,#ffff00 176px,#bbff00 179px,#56ff00 183px,#0dff00 187px,#00ff07 188px,#00ff87 194px,#00ffc4 198px,#00ffe8 207px,#00fff9 220px,#00ffe5 239px,#00ffd5 244px)"></i><i style="height:1px;background:linear-gradient(90deg,#00e3ff,#00fdff 2px,#00ffa5 7px,#00ff5a 11px,#05ff00 19px,#bdff00 32px,#f4ff00 39px,#fffb00 42px,#ffa400 62px,#ff6500 86px,#ff2300 123px,#ff2100 155px,#ff5000 161px,#ffd300 172px,#fdff00 176px,#b9ff00 179px,#56ff00 183px,#0dff00 187px,#00ff07 188px,#00ff87 194px,#00ffc4 198px,#00ffe9 207px,#00fffa 220px,#00ffe6 239px,#00ffd6 244px)"></i><i style="height:1px;background:linear-gradient(90deg,#00ebff,#00fff8 2px,#00ff50 11px,#00ff04 18px,#36ff00 22px,#c4ff00 32px,#f8ff00 39px,#ffe900 45px,#ffa000 62px,#ff5c00 89px,#ff2300 123px,#ff2200 155px,#ff5100 161px,#ffd400 172px,#faff00 176px,#b7ff00 179px,#56ff00 183px,#0dff00 187px,#00ff07 188px,#00ff87 194px,#00ffc4 198px,#00ffea 207px,#00fffb 220px,#00ffe7 239px,#00ffd7 244px)"></i><i style="height:1px;background:linear-gradient(90deg,#00f3ff,#00feff 1px,#00ff8f 7px,#00ff54 10px,#00ff1f 15px,#00ff01 18px,#bfff00 31px,#f0ff00 37px,#fff900 41px,#ffa400 60px,#ff5b00 88px,#ff2300 123px,#ff2200 155px,#ff5d00 162px,#ffcc00 171px,#fff700 175px,#f8ff00 176px,#9bff00 180px,#43ff00 184px,#0dff00 187px,#00ff07 188px,#00ff87 194px,#00ffc4 198px,#00ffeb 207px,#00fffc 220px,#00ffe8 239px,#00ffd8 244px)"></i><i style="height:1px;background:linear-gradient(90deg,#00faff,#00ffe7 2px,#00ff4a 10px,#00ff1a 15px,#03ff00 18px,#b9ff00 30px,#e8ff00 35px,#fffa00 40px,#ffa300 59px,#ff5900 88px,#ff2300 123px,#ff1f00 154px,#ff4000 159px,#ff8300 165px,#ffd700 172px,#fff800 175px,#f6ff00 176px,#56ff00 183px,#0dff00 187px,#00ff07 188px,#00ff87 194px,#00ffc4 198px,#00ffeb 207px,#00fffd 220px,#00ffe9 239px,#00ffd9 244px)"></i><i style="height:1px;background:linear-gradient(90deg,#00fffd,#00ffa7 5px,#00ff41 10px,#00ff1b 14px,#00ff04 17px,#24ff00 20px,#b1ff00 29px,#e6ff00 34px,#fffb00 39px,#ffa000 59px,#ff5300 90px,#ff2300 123px,#ff2000 154px,#ff4200 159px,#ff8500 165px,#ffd800 172px,#fff900 175px,#e1ff00 177px,#56ff00 183px,#0dff00 187px,#00ff07 188px,#00ff87 194px,#00ffc4 198px,#00ffeb 207px,#00fffe 220px,#00ffea 239px,#00ffda 244px)"></i><i style="height:2px;background:linear-gradient(90deg,#00fff3,#00ff9d 5px,#00ff38 10px,#00ff13 14px,#02ff00 17px,#3aff00 21px,#b8ff00 29px,#ecff00 34px,#fffb00 38px,#ff9b00 59px,#ff4d00 92px,#ff2300 123px,#ff2000 154px,#ff4300 159px,#ff8800 165px,#ffd000 171px,#fffb00 175px,#dfff00 177px,#56ff00 183px,#0dff00 187px,#00ff07 188px,#00ff87 194px,#00ffc4 198px,#00ffec 207px,#00feff 220px,#00ffed 238px,#00ffdb 244px)"></i><i style="height:2px;background:linear-gradient(90deg,#00ffe7,#00ff8f 5px,#00ff2d 10px,#00ff09 14px,#0bff00 17px,#41ff00 21px,#c0ff00 29px,#f4ff00 34px,#fff900 37px,#ff9800 58px,#ff4a00 92px,#ff2300 123px,#ff2100 154px,#ff4f00 160px,#ffd200 171px,#fffd00 175px,#c6ff00 178px,#55ff00 183px,#0dff00 187px,#00ff07 188px,#00ff87 194px,#00ffc3 198px,#00ffe9 206px,#00fdff 219px,#00fff5 235px,#00ffdc 244px)"></i><i style="height:2px;background:linear-gradient(90deg,#00ffdb,#00ff83 5px,#00ff23 10px,#01ff01 14px,#1dff00 18px,#d4ff00 30px,#fbff00 34px,#ff9100 58px,#ff4400 94px,#ff2200 123px,#ff2100 154px,#ff5200 160px,#ffcb00 170px,#fffe00 175px,#c3ff00 178px,#55ff00 183px,#0dff00 187px,#00ff07 188px,#00ff86 194px,#00ffc2 198px,#00ffe9 206px,#00fcff 218px,#00fff8 235px,#00ffde 244px)"></i><i style="height:2px;background:linear-gradient(90deg,#00ffcf,#00ff63 6px,#00ff1a 10px,#02ff00 13px,#25ff00 18px,#dbff00 30px,#fffd00 34px,#ff9100 56px,#ff4700 91px,#ff2200 121px,#ff2200 154px,#ff5400 160px,#ffcd00 170px,#ffff00 175px,#a9ff00 179px,#42ff00 184px,#0dff00 187px,#00ff07 188px,#00ff85 194px,#00ffc1 198px,#00ffe6 205px,#00fcff 218px,#00fbff 231px,#00ffeb 241px,#00ffdf 244px)"></i><i style="height:2px;background:linear-gradient(90deg,#00ffc2,#00ff12 10px,#03ff00 12px,#2eff00 18px,#88ff00 24px,#ecff00 31px,#fefe00 33px,#ff8d00 55px,#ff4d00 86px,#ff2200 119px,#ff2000 153px,#ff3900 157px,#ff8700 164px,#ffcf00 170px,#feff00 175px,#a7ff00 179px,#41ff00 184px,#00ff07 188px,#00ff84 194px,#00ffc0 198px,#00ffe2 204px,#00fcff 217px,#00f6ff 230px,#00fff8 238px,#00ffe0 244px)"></i><i style="height:2px;background:linear-gradient(90deg,#00ffb6,#00ff0b 10px,#0aff00 12px,#42ff00 19px,#e7ff00 30px,#fcff00 32px,#ff8e00 53px,#ff6000 73px,#ff2300 116px,#ff2000 153px,#ff3b00 157px,#ff8b00 164px,#ffc800 169px,#fdff00 175px,#a5ff00 179px,#51ff00 183px,#0dff00 187px,#00ff07 188px,#00ff83 194px,#00ffbe 198px,#00ffde 203px,#00fcff 217px,#00f1ff 229px,#00fffb 238px,#00ffe2 244px)"></i><i style="height:2px;background:linear-gradient(90deg,#00ffaa,#00ff03 10px,#4bff00 19px,#ecff00 30px,#fffc00 32px,#ff9c00 48px,#ff7300 60px,#ff2400 113px,#ff2100 153px,#ff4700 158px,#ff9c00 165px,#ffd300 170px,#fbff00 175px,#a3ff00 179px,#50ff00 183px,#0cff00 187px,#00ff06 188px,#00ff92 195px,#00ffc7 199px,#00ffe9 206px,#00fbff 217px,#00edff 229px,#00fffa 239px,#00ffe3 244px)"></i><i style="height:2px;background:linear-gradient(90deg,#00ff9d,#00ff09 9px,#0fff00 11px,#5fff00 20px,#f3ff00 30px,#fff700 32px,#ff9400 48px,#ff6b00 61px,#ff2100 116px,#ff2200 153px,#ff4a00 158px,#ffce00 169px,#faff00 175px,#a1ff00 179px,#4eff00 183px,#0cff00 187px,#00ff06 188px,#00ff91 195px,#00ffc6 199px,#00ffe6 205px,#00faff 217px,#00eaff 229px,#00fffc 239px,#00ffe4 244px)"></i><i style="height:2px;background:linear-gradient(90deg,#00ff91,#01ff01 9px,#75ff00 21px,#f9ff00 30px,#ffda00 35px,#ff8300 50px,#ff5f00 65px,#ff1f00 119px,#ff2300 153px,#ff4d00 158px,#ffd000 169px,#fff800 174px,#f9ff00 175px,#9eff00 179px,#4cff00 183px,#00ff06 188px,#00ff90 195px,#00ffc5 199px,#00ffe6 205px,#00faff 217px,#00e6ff 228px,#00fffd 239px,#00ffe5 244px)"></i><i style="height:2px;background:linear-gradient(90deg,#00ff84,#00ff05 8px,#8aff00 22px,#f4ff00 29px,#fff400 31px,#ff9f00 43px,#ff7100 53px,#ff4f00 74px,#ff1e00 121px,#ff2000 152px,#ff3b00 156px,#ff9b00 164px,#ffd400 169px,#fff900 174px,#f7ff00 175px,#9cff00 179px,#5bff00 182px,#0cff00 187px,#00ff06 188px,#00ff8f 195px,#00ffce 200px,#00fff1 209px,#00f9ff 217px,#00e4ff 228px,#00fffa 240px,#00ffe6 244px)"></i><i style="height:2px;background:linear-gradient(90deg,#00ff77,#00ff07 7px,#1eff00 10px,#93ff00 22px,#fcff00 29px,#ffa400 41px,#ff7100 51px,#ff5000 69px,#ff1e00 122px,#ff2000 152px,#ff3d00 156px,#ffcf00 168px,#fffb00 174px,#e3ff00 176px,#6bff00 181px,#0bff00 187px,#00ff06 188px,#00ff8e 195px,#00ffce 200px,#00ffef 208px,#00f8ff 217px,#00e2ff 227px,#00f6ff 237px,#00fff6 241px,#00ffe6 244px)"></i><i style="height:2px;background:linear-gradient(90deg,#00ff69,#00ff08 6px,#11ff00 8px,#75ff00 18px,#aaff00 23px,#f8ff00 28px,#ffe600 31px,#ff8800 44px,#ff6200 54px,#ff4300 80px,#ff1e00 123px,#ff2100 152px,#ff4100 156px,#ffd300 168px,#fffd00 174px,#e0ff00 176px,#68ff00 181px,#0bff00 187px,#00ff06 188px,#00ff8e 195px,#00ffce 200px,#00ffef 208px,#00faff 216px,#00e1ff 226px,#00f2ff 236px,#00fffb 240px,#00ffe6 244px)"></i><i style="height:2px;background:linear-gradient(90deg,#00ff5c,#00ff09 5px,#11ff00 7px,#81ff00 18px,#b5ff00 23px,#fffc00 28px,#ffa600 38px,#ff6c00 48px,#ff4d00 63px,#ff1e00 124px,#ff2300 152px,#ff4500 156px,#ffd700 168px,#feff00 174px,#c5ff00 177px,#65ff00 181px,#0aff00 187px,#00ff07 188px,#00ff8e 195px,#00ffce 200px,#00ffef 208px,#00f9ff 216px,#00e0ff 225px,#00f2ff 236px,#00fffb 240px,#00ffe6 244px)"></i><i style="height:2px;background:linear-gradient(90deg,#00ff4e,#04ff00 5px,#7cff00 16px,#c1ff00 23px,#fefd00 27px,#ffab00 36px,#ff6700 47px,#ff4800 62px,#ff2000 125px,#ff2800 152px,#ff5800 157px,#ffdb00 168px,#faff00 174px,#c1ff00 177px,#62ff00 181px,#08ff00 187px,#00ff09 188px,#00ff8f 195px,#00ffce 200px,#00fff0 208px,#00fbff 215px,#00deff 224px,#00f4ff 236px,#00fffa 240px,#00ffe6 244px)"></i><i style="height:1px;background:linear-gradient(90deg,#00ff44,#00ff01 4px,#53ff00 11px,#ccff00 23px,#faff00 26px,#ffa300 36px,#ff6400 46px,#ff4600 60px,#ff2800 109px,#ff2600 136px,#ff2e00 152px,#ff5d00 157px,#ffde00 168px,#fffe00 173px,#e8ff00 175px,#60ff00 181px,#06ff00 187px,#00ff1e 189px,#00ff90 195px,#00ffcf 200px,#00fff1 208px,#00f9ff 215px,#00ddff 224px,#00f9ff 237px,#00ffef 242px,#00ffe6 244px)"></i><i style="height:1px;background:linear-gradient(90deg,#00ff3d,#06ff00 4px,#4fff00 10px,#d3ff00 23px,#fffe00 26px,#ffbe00 32px,#ff6800 44px,#ff4900 55px,#ff3800 83px,#ff2400 126px,#ff3300 152px,#ff6200 157px,#ffe000 168px,#feff00 173px,#d2ff00 176px,#5eff00 181px,#04ff00 187px,#00ff34 190px,#00ff91 195px,#00ffcf 200px,#00fff2 208px,#00f8ff 215px,#00ddff 223px,#00faff 237px,#00ffe5 244px)"></i><i style="height:1px;background:linear-gradient(90deg,#00ff37,#00ff04 3px,#56ff00 10px,#daff00 23px,#f8ff00 25px,#ffde00 28px,#ff7a00 40px,#ff5400 48px,#ff3b00 66px,#ff2d00 104px,#ff2800 128px,#ff3800 152px,#ff6600 157px,#ffe200 168px,#fbff00 173px,#cfff00 176px,#5cff00 181px,#03ff00 187px,#00ff92 195px,#00ffcf 200px,#00fff3 208px,#00f7ff 215px,#00dcff 223px,#00fffb 239px,#00ffe5 244px)"></i><i style="height:1px;background:linear-gradient(90deg,#00ff30,#03ff00 3px,#48ff00 8px,#e2ff00 23px,#ffff00 25px,#ffbb00 31px,#ff6200 43px,#ff4300 54px,#ff3600 79px,#ff2d00 106px,#ff2b00 130px,#ff3d00 152px,#ff7700 158px,#ffe400 168px,#fffe00 172px,#deff00 175px,#5aff00 181px,#01ff00 187px,#00ff93 195px,#00ffd0 200px,#00fff3 208px,#00f9ff 214px,#00dbff 223px,#00fffa 239px,#00ffe5 244px)"></i><i style="height:1px;background:linear-gradient(90deg,#00ff29,#00ff08 2px,#1bff00 4px,#63ff00 10px,#eaff00 23px,#fff800 25px,#ffb500 31px,#ff5c00 43px,#ff3e00 55px,#ff3400 81px,#ff2d00 108px,#ff2f00 131px,#ff4300 152px,#ff8600 159px,#ffe600 168px,#feff00 172px,#dbff00 175px,#59ff00 181px,#00ff02 187px,#00ff95 195px,#00ffd0 200px,#00fff4 208px,#00f8ff 214px,#00daff 223px,#00fffc 238px,#00ffe4 244px)"></i><i style="height:1px;background:linear-gradient(90deg,#00ff22,#00ff01 2px,#4bff00 7px,#fffe00 24px,#ffb700 30px,#ff5c00 42px,#ff3f00 52px,#ff3200 76px,#ff3000 104px,#ff3000 128px,#ff4a00 152px,#ff9600 160px,#ffe900 168px,#faff00 172px,#d7ff00 175px,#56ff00 181px,#00ff04 187px,#00ff87 194px,#00ffd1 200px,#00fff5 208px,#00f6ff 214px,#00d9ff 222px,#00f9ff 235px,#00ffeb 242px,#00ffe4 244px)"></i><i style="height:1px;background:linear-gradient(90deg,#00ff1b,#06ff00 2px,#52ff00 7px,#fbff00 23px,#ffa800 31px,#ff5600 42px,#ff3a00 53px,#ff3000 78px,#ff3000 105px,#ff3300 128px,#ff5100 152px,#ffa500 161px,#fff200 169px,#ffff00 171px,#d3ff00 175px,#54ff00 181px,#09ff00 186px,#00ff07 187px,#00ff89 194px,#00ffd1 200px,#00fff9 209px,#00ecff 216px,#00d7ff 223px,#00fff9 238px,#00ffe4 244px)"></i><i style="height:1px;background:linear-gradient(90deg,#00ff14,#00ff05 1px,#59ff00 7px,#fffb00 23px,#ffa200 31px,#ff5000 42px,#ff3600 53px,#ff2f00 78px,#ff3100 105px,#ff3700 128px,#ff5800 152px,#ffaa00 161px,#fff500 169px,#f3ff00 172px,#cfff00 175px,#41ff00 182px,#06ff00 186px,#00ff1b 188px,#00ff8b 194px,#00ffd2 200px,#00fffb 209px,#00e1ff 218px,#00d6ff 223px,#00fffb 237px,#00ffe4 244px)"></i><i style="height:1px;background:linear-gradient(90deg,#00ff0c,#02ff00 1px,#55ff00 6px,#fffd00 22px,#ff9b00 31px,#ff4b00 42px,#ff3200 54px,#ff2e00 79px,#ff3200 107px,#ff3c00 129px,#ff6000 152px,#ffb800 162px,#fffe00 170px,#d9ff00 174px,#8cff00 178px,#3fff00 182px,#03ff00 186px,#00ff44 190px,#00ff9b 195px,#00ffd3 200px,#00fffc 209px,#00d5ff 222px,#00fffa 237px,#00ffe3 244px)"></i><i style="height:1px;background:linear-gradient(90deg,#00ff05,#1cff00 2px,#69ff00 7px,#ffff00 21px,#ff9500 31px,#ff4500 42px,#ff2e00 55px,#ff2d00 80px,#ff3400 111px,#ff4100 130px,#ff6800 152px,#ffd000 164px,#fcff00 170px,#d5ff00 174px,#89ff00 178px,#2dff00 183px,#00ff00 186px,#00ff8f 194px,#00ffd4 200px,#00fffd 209px,#00d3ff 222px,#00fffc 236px,#00ffe3 244px)"></i><i style="height:1px;background:linear-gradient(90deg,#03ff00,#64ff00 6px,#fdff00 20px,#ff8700 32px,#ff4000 42px,#ff2a00 56px,#ff2c00 81px,#ff4000 127px,#ff7000 152px,#fffe00 169px,#d0ff00 174px,#3aff00 182px,#00ff03 186px,#00ff91 194px,#00ffd4 200px,#00ffff 209px,#00d2ff 221px,#00e2ff 227px,#00fffa 236px,#00ffe3 244px)"></i><i style="height:1px;background:linear-gradient(90deg,#0bff00,#6cff00 6px,#fbff00 19px,#ff8000 32px,#ff3b00 42px,#ff2700 58px,#ff2d00 83px,#ff4400 127px,#ff7800 152px,#fdff00 169px,#cbff00 174px,#28ff00 183px,#00ff06 186px,#00ff94 194px,#00ffd5 200px,#00fffd 208px,#00d0ff 221px,#00e2ff 227px,#00fffc 235px,#00ffe2 244px)"></i><i style="height:1px;background:linear-gradient(90deg,#13ff00,#74ff00 6px,#fffb00 19px,#ff8200 31px,#ff3700 42px,#ff2400 59px,#ff2d00 84px,#ff4800 127px,#ff8000 152px,#fffd00 168px,#d3ff00 173px,#90ff00 177px,#25ff00 183px,#06ff00 185px,#00ff2b 188px,#00ff96 194px,#00ffd6 200px,#00fffe 208px,#00ceff 221px,#00e2ff 227px,#00fffb 235px,#00ffe2 244px)"></i><i style="height:1px;background:linear-gradient(90deg,#1bff00,#7cff00 6px,#fffd00 18px,#ff7c00 31px,#ff3300 42px,#ff2200 61px,#ff3000 88px,#ff4a00 126px,#ff8900 152px,#fdff00 168px,#ceff00 173px,#77ff00 178px,#03ff00 185px,#00ff55 190px,#00ff98 194px,#00ffd7 200px,#00feff 208px,#00cdff 221px,#00e2ff 227px,#00fffd 234px,#00ffe2 244px)"></i><i style="height:1px;background:linear-gradient(90deg,#23ff00,#85ff00 6px,#ffff00 17px,#ff7e00 30px,#ff3000 42px,#ff2000 64px,#ff4e00 126px,#ff9100 152px,#fffd00 167px,#c8ff00 173px,#0fff00 184px,#00ff01 185px,#00ff9b 194px,#00ffd8 200px,#00fcff 208px,#00cbff 221px,#00e2ff 227px,#00fffc 234px,#00ffe2 244px)"></i><i style="height:1px;background:linear-gradient(90deg,#2cff00,#8dff00 6px,#fcff00 16px,#ff7800 30px,#ff2d00 42px,#ff1f00 67px,#ff5200 126px,#ff9a00 152px,#fcff00 167px,#c2ff00 173px,#0bff00 184px,#00ff05 185px,#00ff9d 194px,#00ffe0 201px,#00fbff 208px,#00c9ff 221px,#00dcff 226px,#00ffff 233px,#00ffe2 244px)"></i><i style="height:1px;background:linear-gradient(90deg,#35ff00,#a3ff00 7px,#faff00 15px,#ff7200 30px,#ff2a00 42px,#ff1f00 69px,#ff5600 126px,#ffa200 152px,#ffff00 166px,#caff00 172px,#57ff00 179px,#07ff00 184px,#00ff18 186px,#00ff92 193px,#00ffd2 199px,#00fdff 207px,#00c7ff 221px,#00dbff 226px,#00fffe 233px,#00ffe2 244px)"></i><i style="height:1px;background:linear-gradient(90deg,#3eff00,#acff00 7px,#fffa00 15px,#ff8c00 26px,#ff3a00 38px,#ff2400 45px,#ff2200 75px,#ff5b00 126px,#ffb000 153px,#fffe00 165px,#c4ff00 172px,#03ff00 184px,#00ff64 190px,#00ffa3 194px,#00ffe2 201px,#00fcff 207px,#00c4ff 221px,#00dbff 226px,#00fffe 233px,#00ffe2 244px)"></i><i style="height:1px;background:linear-gradient(90deg,#48ff00,#b5ff00 7px,#fffb00 14px,#ff8d00 25px,#ff4200 36px,#ff2500 43px,#ff2100 74px,#ff5f00 126px,#ffb900 153px,#ffff00 164px,#c8ff00 171px,#7eff00 176px,#00ff02 184px,#00ff99 193px,#00ffd5 199px,#00ffff 206px,#00c3ff 220px,#00ccff 224px,#00fcff 232px,#00ffe2 244px)"></i><i style="height:1px;background:linear-gradient(90deg,#54ff00,#c0ff00 7px,#fffa00 13px,#ff8c00 24px,#ff4300 35px,#ff2400 43px,#ff2200 75px,#ff6400 126px,#ffc200 153px,#fdff00 163px,#bfff00 171px,#08ff00 183px,#00ff18 185px,#00ff9d 193px,#00ffde 200px,#00fdff 206px,#00c1ff 220px,#00caff 224px,#00f7ff 231px,#00fff2 237px,#00ffe2 244px)"></i><i style="height:1px;background:linear-gradient(90deg,#61ff00,#cdff00 7px,#fbff00 11px,#ff8a00 23px,#ff4400 34px,#ff2300 43px,#ff2200 75px,#ff6600 125px,#ffc700 152px,#feff00 161px,#beff00 170px,#7bff00 175px,#00ff01 183px,#00ffa1 193px,#00ffe1 200px,#00faff 206px,#00beff 220px,#00c8ff 224px,#00f4ff 231px,#00fff7 236px,#00ffe3 244px)"></i><i style="height:1px;background:linear-gradient(90deg,#70ff00,#dbff00 7px,#ffff00 10px,#ff8d00 21px,#ff4800 32px,#ff2200 43px,#ff2300 76px,#ff6900 124px,#ffd200 152px,#ffff00 159px,#b0ff00 170px,#6dff00 175px,#04ff00 182px,#00ffa6 193px,#00ffe4 200px,#00fcff 205px,#00bbff 220px,#00c5ff 224px,#00f5ff 232px,#00fff7 237px,#00ffe4 244px)"></i><i style="height:1px;background:linear-gradient(90deg,#7fff00,#f6ff00 8px,#fff100 10px,#ff9800 18px,#ff5500 28px,#ff2400 41px,#ff2100 74px,#ff6a00 122px,#ffd300 150px,#fffe00 157px,#a0ff00 170px,#4fff00 176px,#06ff00 181px,#00ff35 185px,#00ffac 193px,#00ffee 201px,#00f9ff 205px,#00b8ff 220px,#00c1ff 224px,#00f0ff 232px,#00fff8 238px,#00ffe6 244px)"></i><i style="height:1px;background:linear-gradient(90deg,#90ff00,#f8ff00 7px,#ffe300 10px,#ff9000 17px,#ff5600 26px,#ff2300 41px,#ff2300 75px,#ff7300 123px,#ffe400 151px,#f9ff00 156px,#8fff00 170px,#14ff00 179px,#00ff07 181px,#00ffb3 193px,#00fff2 201px,#00fbff 204px,#00b5ff 220px,#00beff 224px,#00efff 233px,#00fff8 239px,#00ffe8 244px)"></i><i style="height:1px;background:linear-gradient(90deg,#a0ff00,#faff00 6px,#ffac00 13px,#ff7f00 17px,#ff4c00 26px,#ff2100 42px,#ff2400 76px,#ff7900 123px,#ffe500 149px,#faff00 154px,#7cff00 170px,#05ff00 179px,#00ff4e 185px,#00ffb9 193px,#00fffc 202px,#00b2ff 220px,#00c0ff 225px,#00f5ff 236px,#00fff4 241px,#00ffea 244px)"></i><i style="height:1px;background:linear-gradient(90deg,#b0ff00,#faff00 5px,#ff9c00 13px,#ff6e00 17px,#ff3f00 27px,#ff1f00 43px,#ff2500 76px,#ff7d00 122px,#ffdc00 145px,#faff00 152px,#69ff00 170px,#03ff00 178px,#00ffc0 193px,#00feff 202px,#00b1ff 219px,#00b6ff 224px,#00fffd 240px,#00ffec 244px)"></i><i style="height:1px;background:linear-gradient(90deg,#bfff00,#f9ff00 4px,#ffd100 8px,#ff6600 16px,#ff3c00 25px,#ff1f00 44px,#ff2500 76px,#ff8100 121px,#ffd800 142px,#faff00 150px,#60ff00 169px,#01ff00 177px,#00ffbd 192px,#00fffe 201px,#00adff 219px,#00b2ff 224px,#00fffc 241px,#00ffef 244px)"></i><i style="height:1px;background:linear-gradient(90deg,#cdff00,#fffa00 4px,#ff7e00 13px,#ff5700 16px,#ff3300 25px,#ff1e00 46px,#ff2600 76px,#ff8800 121px,#ffe200 142px,#faff00 148px,#61ff00 167px,#00ff02 176px,#00ffba 191px,#00fffd 200px,#00acff 218px,#00aaff 223px,#00fffb 242px,#00fff1 244px)"></i><i style="height:1px;background:linear-gradient(90deg,#d8ff00,#fffe00 3px,#ff8300 12px,#ff5400 15px,#ff3800 20px,#ff2300 34px,#ff2200 73px,#ff8900 119px,#ffd800 138px,#fbff00 146px,#7eff00 162px,#06ff00 174px,#00ff2a 178px,#00ffb8 190px,#00fffb 199px,#00a9ff 218px,#00a9ff 224px,#00f3ff 240px,#00fff8 243px,#00fff4 244px)"></i><i style="height:1px;background:linear-gradient(90deg,#e1ff00,#faff00 2px,#ff8a00 11px,#ff4900 15px,#ff3300 19px,#ff2100 32px,#ff2400 74px,#ff9300 120px,#ffeb00 140px,#fcff00 144px,#81ff00 160px,#02ff00 173px,#00ffc0 190px,#00ffff 199px,#00a8ff 217px,#00a3ff 223px,#00e2ff 238px,#00fffb 243px,#00fff6 244px)"></i><i style="height:1px;background:linear-gradient(90deg,#e8ff00,#fffe00 2px,#ff7300 12px,#ff4200 15px,#ff2d00 19px,#ff1f00 32px,#ff2600 75px,#ff7200 106px,#ffb100 126px,#feff00 142px,#86ff00 158px,#00ff00 172px,#00ffbd 189px,#00fffd 198px,#00a4ff 217px,#00a1ff 224px,#00d7ff 237px,#00fffe 243px,#00fff9 244px)"></i><i style="height:1px;background:linear-gradient(90deg,#ebff00,#fffb00 2px,#ff7000 12px,#ff3e00 15px,#ff2900 19px,#ff1e00 32px,#ff2700 75px,#ff6d00 101px,#ffa900 122px,#ffff00 140px,#84ff00 157px,#00ff01 171px,#00ffc2 189px,#00feff 198px,#00a1ff 217px,#009eff 224px,#00ccff 236px,#00fffb 244px)"></i><i style="height:1px;background:linear-gradient(90deg,#ecff00,#fffb00 2px,#ff6f00 12px,#ff3d00 15px,#ff2900 19px,#ff1e00 32px,#ff2800 74px,#ff7400 101px,#ffb100 122px,#fbff00 139px,#7aff00 157px,#00ff00 170px,#00ffc6 189px,#00fffd 197px,#009dff 217px,#009aff 224px,#00c7ff 236px,#00fffe 244px)"></i><i style="height:1px;background:linear-gradient(90deg,#eaff00,#fffc00 2px,#ff6f00 12px,#ff3e00 15px,#ff2a00 19px,#ff1e00 31px,#ff2600 69px,#ff3900 79px,#ff7700 99px,#ffb900 122px,#fbff00 137px,#70ff00 157px,#01ff00 169px,#00ffca 189px,#00feff 197px,#009dff 216px,#0095ff 223px,#00b8ff 234px,#00feff 244px)"></i><i style="height:1px;background:linear-gradient(90deg,#e7ff00,#ffff00 2px,#ff8100 11px,#ff4000 15px,#ff2800 20px,#ff1e00 31px,#ff2500 64px,#ff3c00 78px,#ff8600 101px,#ffc600 123px,#fcff00 135px,#68ff00 157px,#04ff00 168px,#00ffd5 190px,#00fbff 197px,#009aff 216px,#0092ff 223px,#00b3ff 234px,#00fcff 244px)"></i><i style="height:1px;background:linear-gradient(90deg,#e3ff00,#faff00 2px,#ffa200 9px,#ff4300 15px,#ff2700 21px,#ff1e00 33px,#ff2400 61px,#ff4400 78px,#ff9c00 105px,#ffd300 124px,#fdff00 133px,#57ff00 158px,#00ff03 168px,#00ffd0 189px,#00feff 196px,#0097ff 216px,#0090ff 224px,#00b4ff 235px,#00faff 244px)"></i><i style="height:1px;background:linear-gradient(90deg,#ddff00,#fffb00 3px,#ff7300 12px,#ff4700 15px,#ff2300 23px,#ff2100 57px,#ff4d00 78px,#ffad00 107px,#ffdc00 124px,#feff00 131px,#48ff00 159px,#00ff00 167px,#00ffd3 189px,#00fcff 196px,#0094ff 216px,#008dff 224px,#00b0ff 235px,#00f7ff 244px)"></i><i style="height:1px;background:linear-gradient(90deg,#d8ff00,#fdff00 3px,#ff9600 10px,#ff4a00 15px,#ff2100 24px,#ff2200 57px,#ff5d00 80px,#ffbb00 108px,#ffe500 124px,#ffff00 129px,#40ff00 159px,#03ff00 166px,#00ffd5 189px,#00fffe 195px,#0091ff 216px,#0089ff 224px,#00abff 235px,#00f5ff 244px)"></i><i style="height:1px;background:linear-gradient(90deg,#d2ff00,#fff800 4px,#ff5900 14px,#ff3600 19px,#ff1f00 26px,#ff2300 57px,#ff7500 84px,#ffc500 108px,#ffea00 123px,#fbff00 128px,#32ff00 160px,#00ff03 166px,#00ffd7 189px,#00feff 195px,#008dff 216px,#0085ff 223px,#00a1ff 234px,#00d7ff 241px,#00f2ff 244px)"></i><i style="height:1px;background:linear-gradient(90deg,#ccff00,#fffe00 4px,#ff5c00 14px,#ff2e00 21px,#ff1e00 28px,#ff2400 57px,#ffd000 109px,#fff200 123px,#f8ff00 127px,#77ff00 148px,#23ff00 161px,#00ff00 165px,#00ffd8 189px,#00fdff 195px,#008aff 216px,#0081ff 223px,#009dff 234px,#00d3ff 241px,#00efff 244px)"></i><i style="height:1px;background:linear-gradient(90deg,#c6ff00,#fbff00 4px,#ffc200 8px,#ff6c00 13px,#ff4600 17px,#ff2100 25px,#ff2300 56px,#ffd500 108px,#faff00 125px,#74ff00 147px,#1dff00 161px,#00ff05 165px,#00ffe0 190px,#00fcff 195px,#0083ff 217px,#007eff 224px,#0098ff 234px,#00d0ff 241px,#00ecff 244px)"></i><i style="height:2px;background:linear-gradient(90deg,#bcff00,#fffb00 5px,#ff7000 13px,#ff3b00 19px,#ff1f00 26px,#ff2200 55px,#ffdb00 108px,#f9ff00 123px,#60ff00 149px,#0cff00 162px,#00ff0d 165px,#00ffe7 191px,#00fcff 195px,#007dff 217px,#0076ff 224px,#0090ff 234px,#00c9ff 241px,#00e7ff 244px)"></i><i style="height:1px;background:linear-gradient(90deg,#b1ff00,#ebff00 4px,#fdff00 5px,#ff7600 13px,#ff3d00 19px,#ff2000 26px,#ff2600 55px,#ffd900 106px,#fdff00 120px,#b4ff00 133px,#14ff00 160px,#00ff03 163px,#00ffe6 191px,#00fdff 195px,#0071ff 218px,#006eff 225px,#008dff 235px,#00cdff 242px,#00e1ff 244px)"></i><i style="height:1px;background:linear-gradient(90deg,#a9ff00,#e6ff00 4px,#f8ff00 5px,#ffe200 7px,#ff8800 12px,#ff3d00 19px,#ff2000 26px,#ff2700 54px,#ffda00 106px,#fcff00 119px,#b5ff00 132px,#08ff00 161px,#00ff07 163px,#00ffec 192px,#00f7ff 196px,#0068ff 219px,#006bff 227px,#0087ff 235px,#00c9ff 242px,#00dcff 244px)"></i><i style="height:1px;background:linear-gradient(90deg,#a1ff00,#e0ff00 4px,#fff800 6px,#ff8c00 12px,#ff3d00 19px,#ff2000 27px,#ff2900 53px,#ffe500 109px,#fbff00 118px,#b7ff00 131px,#00ff04 162px,#00fff2 193px,#00f8ff 196px,#0061ff 219px,#0062ff 226px,#0081ff 235px,#00c4ff 242px,#00d7ff 244px)"></i><i style="height:1px;background:linear-gradient(90deg,#99ff00,#dbff00 4px,#fffc00 6px,#ff9100 12px,#ff3e00 19px,#ff2000 27px,#ff2700 47px,#ff3b00 58px,#ffcb00 100px,#fbff00 117px,#abff00 132px,#00ff01 161px,#00fff8 194px,#00f2ff 197px,#005bff 219px,#0059ff 225px,#007bff 235px,#00bfff 242px,#00d2ff 244px)"></i><i style="height:1px;background:linear-gradient(90deg,#93ff00,#d6ff00 4px,#feff00 6px,#ff9600 12px,#ff4700 18px,#ff2500 25px,#ff2000 38px,#ff3d00 57px,#ffca00 99px,#faff00 116px,#93ff00 135px,#01ff00 160px,#00fffe 195px,#0056ff 219px,#0053ff 225px,#0076ff 235px,#00baff 242px,#00ceff 244px)"></i><i style="height:1px;background:linear-gradient(90deg,#8eff00,#d2ff00 4px,#f9ff00 6px,#ff7e00 14px,#ff4800 18px,#ff2a00 24px,#ff1e00 35px,#ff4500 57px,#ffca00 98px,#fdff00 114px,#15ff00 156px,#00ff05 160px,#00fffe 195px,#004eff 220px,#0057ff 228px,#007aff 236px,#00c9ff 244px)"></i><i style="height:1px;background:linear-gradient(90deg,#8cff00,#e2ff00 5px,#fff600 7px,#ff7100 15px,#ff4000 19px,#ff2300 28px,#ff2500 39px,#ff5c00 61px,#ffcd00 97px,#feff00 112px,#01ff00 158px,#00fffe 195px,#004cff 220px,#0054ff 228px,#0077ff 236px,#00c4ff 244px)"></i><i style="height:1px;background:linear-gradient(90deg,#8dff00,#deff00 5px,#fffb00 7px,#ff6200 16px,#ff4200 19px,#ff2600 29px,#ff2e00 40px,#ffdd00 98px,#f9ff00 110px,#00ff02 157px,#00ffff 195px,#0066ff 216px,#004cff 220px,#0054ff 228px,#0075ff 236px,#00bfff 244px)"></i><i style="height:1px;background:linear-gradient(90deg,#91ff00,#dbff00 5px,#feff00 7px,#ff6100 16px,#ff4500 19px,#ff3000 30px,#ff4200 41px,#ffea00 93px,#fbff00 103px,#c1ff00 115px,#5aff00 135px,#00ff02 155px,#00ff5d 169px,#00fcff 195px,#0068ff 216px,#004eff 220px,#0055ff 228px,#007aff 237px,#00b9ff 244px)"></i><i style="height:1px;background:linear-gradient(90deg,#97ff00,#c8ff00 4px,#f8ff00 7px,#ffe500 9px,#ff7000 15px,#ff5000 18px,#ff4200 26px,#ff5200 38px,#ffa300 59px,#fff300 85px,#f7ff00 91px,#bdff00 109px,#5dff00 127px,#00ff04 152px,#00ff3d 163px,#00ffac 179px,#00feff 194px,#0074ff 215px,#0051ff 220px,#0059ff 229px,#0079ff 237px,#00b4ff 244px)"></i><i style="height:1px;background:linear-gradient(90deg,#9aff00,#d1ff00 5px,#feff00 8px,#ffb300 12px,#ff7600 15px,#ff5b00 18px,#ff5d00 29px,#ff7e00 41px,#ffc300 57px,#fbff00 79px,#b5ff00 99px,#7fff00 113px,#3bff00 127px,#00ff03 146px,#00ff37 160px,#00ffb9 179px,#00fdff 193px,#007fff 214px,#0053ff 220px,#005aff 229px,#0078ff 237px,#00b1ff 244px)"></i><i style="height:1px;background:linear-gradient(90deg,#96ff00,#d2ff00 6px,#fcff00 9px,#ff9100 15px,#ff7c00 18px,#ff8c00 32px,#ffb800 45px,#ffec00 60px,#f9ff00 69px,#8eff00 97px,#50ff00 115px,#10ff00 132px,#00ff07 140px,#00ff41 159px,#00ffbf 178px,#00fcff 192px,#007fff 214px,#0054ff 220px,#005bff 229px,#0077ff 237px,#00afff 244px)"></i><i style="height:1px;background:linear-gradient(90deg,#88ff00,#d2ff00 8px,#fcff00 11px,#ffc200 16px,#ffbb00 24px,#ffd400 41px,#fcff00 57px,#a9ff00 79px,#65ff00 97px,#00ff05 132px,#00ff52 159px,#00ffcf 179px,#00fdff 190px,#0084ff 213px,#0054ff 220px,#005dff 230px,#0077ff 237px,#00aeff 244px)"></i><i style="height:1px;background:linear-gradient(90deg,#76ff00,#f5ff00 16px,#fffa00 25px,#f9ff00 44px,#d6ff00 60px,#4fff00 93px,#00ff05 125px,#00ff6c 160px,#00ffe0 180px,#00faff 188px,#0076ff 214px,#0051ff 220px,#005aff 230px,#0074ff 237px,#00aaff 244px)"></i><i style="height:1px;background:linear-gradient(90deg,#65ff00,#b3ff00 14px,#d5ff00 31px,#ceff00 55px,#69ff00 80px,#2fff00 97px,#00ff05 117px,#00ff8b 161px,#00feff 183px,#0048ff 220px,#0053ff 231px,#006fff 238px,#009bff 244px)"></i><i style="height:1px;background:linear-gradient(90deg,#59ff00,#8eff00 14px,#b6ff00 34px,#bbff00 55px,#32ff00 91px,#00ff03 111px,#00ff88 150px,#00ffb8 165px,#00fbff 179px,#0065ff 208px,#0037ff 221px,#0049ff 234px,#0073ff 242px,#007fff 244px)"></i><i style="height:1px;background:linear-gradient(90deg,#50ff00,#9fff00 33px,#aeff00 54px,#7eff00 67px,#28ff00 91px,#00ff02 108px,#00ff96 144px,#00ffd7 167px,#00fdff 175px,#004fff 205px,#0025ff 221px,#0038ff 235px,#0060ff 244px)"></i><i style="height:1px;background:linear-gradient(90deg,#4dff00,#9cff00 38px,#a3ff00 54px,#25ff00 89px,#00ff03 106px,#00ff9e 140px,#00ffcc 157px,#00ffef 169px,#00faff 173px,#003aff 205px,#0019ff 221px,#002cff 236px,#004aff 244px)"></i><i style="height:1px;background:linear-gradient(90deg,#53ff00,#9cff00 38px,#9eff00 52px,#78ff00 63px,#22ff00 87px,#00ff05 104px,#00ff47 118px,#00ffa6 138px,#00ffd4 155px,#00fff3 168px,#00f8ff 172px,#006aff 195px,#002dff 206px,#0013ff 221px,#0026ff 236px,#0040ff 244px)"></i><i style="height:1px;background:linear-gradient(90deg,#5fff00,#a2ff00 36px,#9eff00 50px,#75ff00 62px,#2fff00 80px,#00ff02 100px,#00ff2a 111px,#00ffa6 135px,#00ffd9 153px,#00fff9 168px,#00eeff 173px,#005aff 197px,#0026ff 207px,#0010ff 222px,#0028ff 238px,#003cff 244px)"></i><i style="height:1px;background:linear-gradient(90deg,#71ff00,#a8ff00 30px,#a7ff00 44px,#89ff00 56px,#37ff00 75px,#00ff02 97px,#00ff28 109px,#00ffac 134px,#00ffdf 153px,#00fdff 169px,#009fff 186px,#002bff 205px,#000fff 220px,#001eff 234px,#0039ff 244px)"></i><i style="height:1px;background:linear-gradient(90deg,#86ff00,#a9ff00 17px,#b9ff00 37px,#94ff00 52px,#33ff00 74px,#00ff02 94px,#00ff2c 108px,#00ffb0 133px,#00ffe2 152px,#00faff 169px,#009dff 186px,#002aff 205px,#000dff 220px,#001dff 234px,#0036ff 244px)"></i><i style="height:1px;background:linear-gradient(90deg,#9aff00,#bdff00 15px,#c6ff00 36px,#91ff00 52px,#2fff00 73px,#00ff04 92px,#00ff34 108px,#00ffaf 131px,#00ffe0 148px,#00fbff 168px,#00a2ff 185px,#0029ff 205px,#000cff 220px,#001cff 234px,#0034ff 244px)"></i><i style="height:1px;background:linear-gradient(90deg,#aaff00,#cdff00 14px,#d0ff00 36px,#8eff00 52px,#2bff00 72px,#00ff03 89px,#00ff37 107px,#00ffb5 131px,#00ffe5 149px,#00fcff 167px,#00a7ff 184px,#0028ff 205px,#000cff 220px,#001bff 234px,#0033ff 244px)"></i><i style="height:1px;background:linear-gradient(90deg,#b5ff00,#d9ff00 14px,#d7ff00 36px,#90ff00 51px,#27ff00 71px,#00ff05 87px,#00ff3f 107px,#00ffb7 130px,#00ffe4 147px,#00fcff 166px,#00b2ff 182px,#0028ff 205px,#000bff 220px,#001aff 234px,#0031ff 244px)"></i><i style="height:1px;background:linear-gradient(90deg,#b9ff00,#dcff00 13px,#d8ff00 36px,#99ff00 49px,#3aff00 65px,#0aff00 78px,#00ff09 86px,#00ff48 107px,#00ffb3 128px,#00ffdf 143px,#00faff 166px,#00aaff 183px,#0028ff 205px,#000bff 220px,#0019ff 234px,#0030ff 244px)"></i><i style="height:1px;background:linear-gradient(90deg,#baff00,#daff00 13px,#d3ff00 36px,#92ff00 49px,#45ff00 61px,#0aff00 75px,#00ff07 82px,#00ff50 107px,#00ffb4 127px,#00ffdf 142px,#00faff 165px,#00b3ff 181px,#0024ff 206px,#000bff 221px,#001fff 238px,#002eff 244px)"></i><i style="height:1px;background:linear-gradient(90deg,#b8ff00,#d5ff00 14px,#c8ff00 36px,#87ff00 49px,#3fff00 60px,#02ff00 75px,#00ff4d 104px,#00ffbc 128px,#00ffe6 145px,#00faff 164px,#00c5ff 177px,#004fff 198px,#0021ff 207px,#000aff 222px,#0023ff 240px,#002dff 244px)"></i><i style="height:1px;background:linear-gradient(90deg,#b6ff00,#cdff00 14px,#baff00 36px,#79ff00 49px,#38ff00 59px,#00ff01 73px,#00ff5a 105px,#00ffbd 127px,#00ffe6 144px,#00faff 163px,#00ccff 175px,#0055ff 197px,#0021ff 207px,#000aff 222px,#0021ff 240px,#002bff 244px)"></i><i style="height:1px;background:linear-gradient(90deg,#b3ff00,#c2ff00 15px,#a8ff00 36px,#69ff00 49px,#2bff00 59px,#00ff03 71px,#00ff60 104px,#00ffc0 127px,#00ffec 147px,#00faff 162px,#00ceff 174px,#005cff 196px,#0024ff 206px,#000bff 221px,#001dff 239px,#002aff 244px)"></i><i style="height:1px;background:linear-gradient(90deg,#b0ff00,#b6ff00 16px,#99ff00 35px,#58ff00 49px,#1bff00 60px,#00ff05 69px,#00ff66 103px,#00ffc4 127px,#00fff1 150px,#00f8ff 162px,#00ccff 174px,#005cff 196px,#0024ff 206px,#000bff 221px,#001cff 239px,#0029ff 244px)"></i><i style="height:1px;background:linear-gradient(90deg,#adff00,#a7ff00 18px,#83ff00 36px,#3bff00 51px,#05ff00 63px,#00ff5f 98px,#00ffc7 127px,#00ffff 158px,#00dcff 170px,#0063ff 195px,#0024ff 206px,#000bff 221px,#001dff 240px,#0027ff 244px)"></i><i style="height:1px;background:linear-gradient(90deg,#a9ff00,#96ff00 21px,#6eff00 37px,#02ff00 61px,#00ff67 98px,#00ffc8 126px,#00fdff 158px,#00daff 170px,#0063ff 195px,#0024ff 206px,#000bff 221px,#001cff 240px,#0027ff 244px)"></i><i style="height:1px;background:linear-gradient(90deg,#a5ff00,#82ff00 25px,#4bff00 42px,#01ff00 59px,#00ff6f 98px,#00ffca 125px,#00fbff 158px,#00d3ff 171px,#0064ff 195px,#0024ff 206px,#000bff 221px,#001bff 240px,#0026ff 244px)"></i><i style="height:1px;background:linear-gradient(90deg,#a1ff00,#6fff00 28px,#19ff00 51px,#00ff02 58px,#00ff79 99px,#00ffcc 124px,#00fbff 157px,#00d0ff 171px,#0064ff 195px,#0024ff 206px,#000bff 221px,#001bff 240px,#0026ff 244px)"></i><i style="height:1px;background:linear-gradient(90deg,#9cff00,#61ff00 29px,#00ff04 57px,#00ff84 100px,#00ffcc 122px,#00fbff 156px,#00ceff 171px,#0065ff 195px,#0025ff 206px,#000bff 221px,#001cff 240px,#0027ff 244px)"></i><i style="height:1px;background:linear-gradient(90deg,#95ff00,#54ff00 30px,#00ff05 56px,#00ff8e 101px,#00ffce 121px,#00faff 155px,#00cbff 171px,#0065ff 195px,#0027ff 206px,#000cff 221px,#001cff 240px,#0027ff 244px)"></i><i style="height:1px;background:linear-gradient(90deg,#8eff00,#49ff00 30px,#00ff03 54px,#00ff94 101px,#00ffcc 118px,#00fcff 152px,#00cdff 170px,#0066ff 195px,#0026ff 207px,#000cff 222px,#001dff 240px,#0028ff 244px)"></i><i style="height:1px;background:linear-gradient(90deg,#87ff00,#3fff00 30px,#00ff04 53px,#00ff9e 102px,#00ffd1 118px,#00fcff 150px,#00caff 170px,#0066ff 195px,#0028ff 207px,#000eff 222px,#001fff 240px,#002aff 244px)"></i><i style="height:1px;background:linear-gradient(90deg,#7fff00,#3aff00 28px,#00ff05 52px,#00ffa4 102px,#00ffd0 115px,#00fdff 147px,#00cbff 169px,#0067ff 195px,#002bff 207px,#000fff 222px,#0020ff 240px,#002bff 244px)"></i><i style="height:1px;background:linear-gradient(90deg,#77ff00,#37ff00 26px,#00ff04 50px,#00ffa5 101px,#00ffce 112px,#00ffff 143px,#00ceff 167px,#0068ff 195px,#002bff 208px,#0010ff 222px,#0021ff 240px,#002dff 244px)"></i><i style="height:2px;background:linear-gradient(90deg,#6dff00,#30ff00 25px,#00ff05 48px,#00ff38 66px,#00ffb2 102px,#00ffd5 112px,#00fcff 141px,#00c9ff 167px,#0069ff 195px,#002cff 209px,#0013ff 222px,#0024ff 240px,#002fff 244px)"></i><i style="height:2px;background:linear-gradient(90deg,#62ff00,#00ff02 43px,#00ff33 63px,#00ffbc 102px,#00ffdc 111px,#00fbff 136px,#00c8ff 165px,#006eff 194px,#002eff 210px,#0016ff 222px,#0026ff 240px,#0031ff 244px)"></i><i style="height:2px;background:linear-gradient(90deg,#59ff00,#00ff04 41px,#00ff39 63px,#00ffc6 102px,#00ffe4 111px,#00faff 132px,#00c4ff 164px,#0073ff 193px,#002cff 212px,#0019ff 223px,#002bff 241px,#0032ff 244px)"></i><i style="height:2px;background:linear-gradient(90deg,#50ff00,#00ff04 39px,#00ff3f 63px,#00ffd9 104px,#00fffd 123px,#00beff 164px,#0070ff 194px,#0025ff 216px,#001eff 227px,#002fff 242px,#0034ff 244px)"></i><i style="height:2px;background:linear-gradient(90deg,#49ff00,#00ff04 37px,#00ff45 63px,#00ffec 108px,#00f9ff 124px,#00a3ff 174px,#0066ff 197px,#0022ff 220px,#002cff 240px,#0036ff 244px)"></i><i style="height:2px;background:linear-gradient(90deg,#42ff00,#00ff05 36px,#00ff4b 63px,#00fff3 108px,#00f6ff 123px,#0084ff 187px,#0026ff 220px,#0031ff 241px,#0037ff 244px)"></i><i style="height:2px;background:linear-gradient(90deg,#3cff00,#00ff04 34px,#00ff50 63px,#00fff6 107px,#00f0ff 123px,#0075ff 193px,#002bff 220px,#0033ff 241px,#0038ff 244px)"></i><i style="height:3px;background:linear-gradient(90deg,#35ff00,#00ff02 31px,#00ff4c 60px,#00fffd 107px,#00ddff 129px,#0070ff 195px,#0030ff 221px,#0037ff 242px,#003aff 244px)"></i><i style="height:3px;background:linear-gradient(90deg,#2fff00,#01ff00 27px,#00ff3f 54px,#00ffc4 90px,#00fefe 105px,#00aaff 158px,#006eff 197px,#0036ff 221px,#003aff 242px,#003dff 244px)"></i><i style="height:3px;background:linear-gradient(90deg,#2aff00,#00ff01 24px,#00ff35 49px,#00ffa1 80px,#00fffe 103px,#00abff 153px,#0073ff 197px,#003cff 222px,#003eff 243px,#003fff 244px)"></i><i style="height:3px;background:linear-gradient(90deg,#26ff00,#00ff02 22px,#00ff34 47px,#00ff9a 77px,#00feff 102px,#00b3ff 143px,#0076ff 198px,#0043ff 222px,#0041ff 244px)"></i><i style="height:3px;background:linear-gradient(90deg,#22ff00,#00ff03 19px,#00ff31 44px,#00ff8e 73px,#00fdff 101px,#00c9ff 126px,#009eff 159px,#007aff 198px,#004bff 220px,#0043ff 243px,#0043ff 244px)"></i><i style="height:3px;background:linear-gradient(90deg,#1eff00,#00ff04 17px,#00ff32 43px,#00ff8a 71px,#00fbff 101px,#00c9ff 123px,#009dff 159px,#007dff 198px,#0054ff 218px,#0046ff 242px,#0046ff 244px)"></i><i style="height:3px;background:linear-gradient(90deg,#19ff00,#00ff04 15px,#00ff33 42px,#00ff8a 70px,#00faff 101px,#00d2ff 116px,#009eff 157px,#007dff 199px,#0058ff 221px,#004bff 244px)"></i><i style="height:3px;background:linear-gradient(90deg,#15ff00,#00ff06 14px,#00ff37 42px,#00ff8e 70px,#00fdff 100px,#00daff 110px,#00a2ff 151px,#007cff 201px,#0055ff 231px,#0050ff 244px)"></i><i style="height:3px;background:linear-gradient(90deg,#10ff00,#00ff06 12px,#00ff3a 42px,#00ff92 70px,#00fdff 100px,#00dcff 108px,#00a7ff 145px,#0079ff 204px,#005aff 239px,#0058ff 244px)"></i><i style="height:3px;background:linear-gradient(90deg,#0bff00,#00ff0a 12px,#00ff3e 42px,#00ff95 70px,#00fdff 100px,#00dbff 107px,#00a8ff 143px,#0070ff 217px,#0060ff 244px)"></i><i style="height:3px;background:linear-gradient(90deg,#06ff00,#00ff1f 25px,#00ff5e 53px,#00fdff 100px,#00d8ff 107px,#00a8ff 143px,#006bff 241px,#006aff 244px)"></i><i style="height:3px;background:linear-gradient(90deg,#02ff00,#00ff3a 38px,#00ff89 65px,#00fdff 100px,#00d5ff 107px,#00a7ff 144px,#0082ff 205px,#0074ff 244px)"></i></div>
<div class="f" style="left:49px;top:594px;width:245px;height:225px"><i style="height:3px;background:linear-gradient(90deg,#00ff00,#00ff03 13px,#00ff2a 18px,#00ffc4 32px,#00fdff 37px,#009bff 46px,#0039ff 63px,#001eff 70px,#0014ff 90px,#0022ff 149px,#005eff 158px,#00aeff 166px,#00f4ff 172px,#00fff8 174px,#00ff40 191px,#00ff0a 196px,#05ff00 200px,#34ff00 231px,#34ff00 244px)"></i><i style="height:3px;background:linear-gradient(90deg,#00ff00,#00ff03 13px,#00ff2b 18px,#00ffc5 32px,#00fdff 37px,#009bff 46px,#003eff 62px,#001eff 70px,#0013ff 89px,#0022ff 149px,#0069ff 159px,#00aeff 166px,#00f4ff 172px,#00fff9 174px,#00ff80 186px,#00ff0b 196px,#03ff00 199px,#36ff00 229px,#37ff00 244px)"></i><i style="height:3px;background:linear-gradient(90deg,#00ff00,#00ff03 13px,#00ff2b 18px,#00ffc6 32px,#00fcff 37px,#009bff 46px,#0043ff 61px,#0020ff 69px,#0011ff 87px,#0021ff 148px,#0044ff 154px,#00a2ff 165px,#00fcff 173px,#00ffb1 182px,#00ff46 191px,#00ff0c 196px,#03ff00 199px,#38ff00 228px,#39ff00 244px)"></i><i style="height:3px;background:linear-gradient(90deg,#00ff00,#00ff04 13px,#00ff2c 18px,#00ffc7 32px,#00fcff 37px,#009aff 46px,#0048ff 60px,#0020ff 69px,#0010ff 87px,#0021ff 148px,#0046ff 154px,#00adff 166px,#00fbff 173px,#00ffc1 181px,#00ff57 190px,#00ff0d 196px,#03ff00 199px,#35ff00 222px,#3cff00 244px)"></i><i style="height:3px;background:linear-gradient(90deg,#00ff00,#00ff04 13px,#00ff2d 18px,#00ffbb 31px,#00fbff 37px,#009aff 46px,#004cff 59px,#0020ff 69px,#000fff 86px,#001fff 146px,#0031ff 151px,#00adff 166px,#00f9ff 173px,#00ffc5 181px,#00ff68 189px,#00ff18 195px,#00ff01 198px,#2bff00 215px,#3dff00 230px,#3eff00 244px)"></i><i style="height:3px;background:linear-gradient(90deg,#00ff00,#00ff04 13px,#00ff2e 18px,#00ffbc 31px,#00faff 37px,#0099ff 46px,#004bff 59px,#0020ff 69px,#000eff 86px,#001dff 144px,#002cff 150px,#00adff 166px,#00f8ff 173px,#00ffef 176px,#00ffbf 182px,#00ff6b 189px,#00ff19 195px,#00ff01 198px,#2cff00 214px,#3fff00 229px,#40ff00 244px)"></i><i style="height:3px;background:linear-gradient(90deg,#00ff00,#00ff05 13px,#00ff3a 19px,#00ffbe 31px,#00fffa 36px,#0091ff 47px,#0040ff 61px,#001dff 70px,#000dff 86px,#001dff 144px,#002dff 150px,#00acff 166px,#00feff 174px,#00ffcd 181px,#00ff6d 189px,#00ff1b 195px,#00ff02 198px,#31ff00 215px,#42ff00 229px,#42ff00 244px)"></i><i style="height:3px;background:linear-gradient(90deg,#00ff00,#00ff05 13px,#00ff3b 19px,#00ffbf 31px,#00fffb 36px,#0097ff 46px,#004dff 58px,#001fff 69px,#000cff 86px,#001bff 143px,#002fff 150px,#00b6ff 167px,#00fcff 174px,#00ffd0 181px,#00ff7f 188px,#00ff1c 195px,#02ff00 199px,#32ff00 214px,#44ff00 227px,#44ff00 244px)"></i><i style="height:3px;background:linear-gradient(90deg,#00ff00,#00ff06 13px,#00ff3c 19px,#00ffc0 31px,#00fffd 36px,#0096ff 46px,#004bff 58px,#001fff 69px,#000bff 85px,#0019ff 142px,#0030ff 150px,#00b5ff 167px,#00faff 174px,#00ffd2 181px,#00ff81 188px,#00ff28 194px,#00ff03 198px,#3bff00 217px,#47ff00 229px,#45ff00 244px)"></i><i style="height:3px;background:linear-gradient(90deg,#00ff00,#00ff07 13px,#00ff52 21px,#00fff2 35px,#00fffe 36px,#0095ff 46px,#004aff 58px,#001dff 70px,#000bff 86px,#0019ff 142px,#0031ff 150px,#00b4ff 167px,#00feff 175px,#00ffd4 181px,#00ff83 188px,#00ff29 194px,#00ff04 198px,#41ff00 218px,#4aff00 231px,#46ff00 244px)"></i><i style="height:3px;background:linear-gradient(90deg,#00ff00,#00ff03 12px,#00ff29 17px,#00ffc3 31px,#00feff 36px,#009cff 45px,#0052ff 56px,#001eff 69px,#000aff 85px,#0019ff 142px,#0033ff 150px,#00bdff 168px,#00fcff 175px,#00ffd6 181px,#00ff84 188px,#00ff2a 194px,#01ff00 199px,#3aff00 215px,#4dff00 225px,#47ff00 244px)"></i><i style="height:3px;background:linear-gradient(90deg,#00ff00,#00ff03 12px,#00ff2b 17px,#00ffc5 31px,#00fdff 36px,#009bff 45px,#0050ff 56px,#001eff 69px,#000aff 85px,#0019ff 142px,#0034ff 150px,#00c5ff 169px,#00fffe 176px,#00ffc2 183px,#00ff74 189px,#00ff2b 194px,#01ff00 199px,#43ff00 217px,#50ff00 226px,#48ff00 244px)"></i><i style="height:3px;background:linear-gradient(90deg,#00ff00,#00ff04 12px,#00ff2c 17px,#00ffc6 31px,#00fbff 36px,#009aff 45px,#004dff 56px,#001fff 68px,#000aff 84px,#0017ff 141px,#0036ff 150px,#00c2ff 169px,#00fdff 176px,#00ffb7 184px,#00ff75 189px,#00ff2b 194px,#00ff00 199px,#4fff00 220px,#4eff00 240px,#49ff00 244px)"></i><i style="height:3px;background:linear-gradient(90deg,#00ff00,#00ff04 12px,#00ff38 18px,#00ffc8 31px,#00f9ff 36px,#0097ff 45px,#004aff 56px,#001dff 68px,#000aff 83px,#0017ff 141px,#0037ff 150px,#00d1ff 171px,#00fffd 177px,#00ff93 187px,#00ff37 193px,#00ff02 199px,#55ff00 222px,#4eff00 241px,#49ff00 244px)"></i><i style="height:3px;background:linear-gradient(90deg,#00ff00,#00ff05 12px,#00ff3a 18px,#00ffca 31px,#00fffb 35px,#008cff 46px,#0047ff 56px,#001aff 68px,#000aff 84px,#0017ff 141px,#0039ff 150px,#00dbff 173px,#00feff 177px,#00ff93 187px,#00ff37 193px,#00ff04 199px,#59ff00 222px,#52ff00 240px,#49ff00 244px)"></i><i style="height:3px;background:linear-gradient(90deg,#00ff00,#00ff06 12px,#00ff46 19px,#00ffcc 31px,#00fffd 35px,#0090ff 45px,#0048ff 55px,#001bff 66px,#000aff 82px,#0017ff 141px,#0041ff 151px,#00e5ff 175px,#00fbff 177px,#00ff93 187px,#00ff37 193px,#00ff01 200px,#5cff00 222px,#56ff00 239px,#4aff00 244px)"></i><i style="height:3px;background:linear-gradient(90deg,#00ff00,#00ff03 11px,#00ff29 16px,#00ffc2 30px,#00feff 35px,#0095ff 44px,#0049ff 54px,#0018ff 66px,#000aff 83px,#0018ff 141px,#0048ff 152px,#00e0ff 175px,#00f9ff 177px,#00ffc9 182px,#00ff84 188px,#00ff37 193px,#00ff04 200px,#5fff00 222px,#5aff00 238px,#4aff00 244px)"></i><i style="height:3px;background:linear-gradient(90deg,#00ff00,#00ff03 11px,#00ff2b 16px,#00ffc5 30px,#00fbff 35px,#0091ff 44px,#0045ff 54px,#0018ff 65px,#000aff 82px,#0018ff 141px,#0050ff 153px,#00d4ff 174px,#00f7ff 177px,#00ffe9 179px,#00ff93 187px,#00ff37 193px,#00ff00 201px,#63ff00 222px,#5dff00 237px,#4aff00 244px)"></i><i style="height:3px;background:linear-gradient(90deg,#00ff00,#00ff04 11px,#00ff39 17px,#00ffc8 30px,#00fffa 34px,#0084ff 45px,#003dff 55px,#0015ff 66px,#000aff 85px,#0019ff 141px,#0057ff 154px,#00d4ff 174px,#00f7ff 177px,#00ffe9 179px,#00ff93 187px,#00ff37 193px,#00ff00 201px,#55ff00 218px,#68ff00 224px,#59ff00 239px,#4bff00 244px)"></i><i style="height:3px;background:linear-gradient(90deg,#00ff00,#00ff06 11px,#00ff3c 17px,#00ffcc 30px,#00fffe 34px,#0089ff 44px,#003fff 54px,#0016ff 65px,#000aff 84px,#0017ff 140px,#0058ff 154px,#00d4ff 174px,#00f7ff 177px,#00ffe9 179px,#00ff93 187px,#00ff37 193px,#00ff00 201px,#4bff00 216px,#69ff00 222px,#5cff00 238px,#4bff00 244px)"></i><i style="height:3px;background:linear-gradient(90deg,#00ff00,#00ff08 11px,#00ff4b 18px,#00ffde 31px,#00fbff 34px,#0085ff 44px,#003cff 54px,#0017ff 64px,#000aff 84px,#0017ff 139px,#0049ff 151px,#00d5ff 174px,#00f8ff 177px,#00ffdd 180px,#00ff93 187px,#00ff37 193px,#00ff05 200px,#46ff00 215px,#6cff00 222px,#5cff00 238px,#4cff00 244px)"></i><i style="height:3px;background:linear-gradient(90deg,#00ff00,#00ff0b 11px,#00ff64 20px,#00fffc 33px,#0081ff 44px,#0039ff 54px,#0016ff 64px,#000bff 86px,#0017ff 137px,#0029ff 144px,#00a1ff 166px,#00e0ff 175px,#00f9ff 177px,#00ffc0 183px,#00ff84 188px,#00ff37 193px,#00ff04 200px,#47ff00 215px,#6fff00 222px,#5bff00 238px,#4cff00 244px)"></i><i style="height:3px;background:linear-gradient(90deg,#00ff00,#00ff0a 10px,#00ff33 15px,#00ffe9 31px,#00fbff 33px,#0085ff 43px,#003bff 53px,#0019ff 62px,#000bff 84px,#0015ff 132px,#0023ff 142px,#0095ff 164px,#00e2ff 175px,#00faff 177px,#00ff92 187px,#00ff2d 194px,#00ff02 200px,#49ff00 215px,#71ff00 222px,#5dff00 237px,#4cff00 244px)"></i><i style="height:3px;background:linear-gradient(90deg,#00ff00,#00ff0e 10px,#00ff43 16px,#00fffd 32px,#0080ff 43px,#0038ff 53px,#0018ff 62px,#000bff 87px,#0014ff 129px,#0026ff 142px,#009cff 165px,#00e4ff 175px,#00fcff 177px,#00ff92 187px,#00ff2d 194px,#00ff01 200px,#4bff00 215px,#74ff00 222px,#61ff00 235px,#4dff00 244px)"></i><i style="height:3px;background:linear-gradient(90deg,#00ff00,#00ff13 10px,#00ff49 16px,#00fff7 31px,#00edff 33px,#0085ff 42px,#0041ff 51px,#0019ff 60px,#000bff 87px,#0013ff 126px,#0029ff 142px,#009dff 165px,#00e7ff 175px,#00feff 177px,#00ff91 187px,#00ff2d 194px,#01ff00 200px,#4dff00 215px,#77ff00 222px,#6bff00 230px,#4dff00 244px)"></i><i style="height:3px;background:linear-gradient(90deg,#00ff00,#00ff13 9px,#00ff45 15px,#00fefe 31px,#0089ff 41px,#0043ff 50px,#0018ff 60px,#000bff 92px,#0013ff 125px,#002dff 142px,#009eff 165px,#00ebff 175px,#00fffe 177px,#00ff91 187px,#00ff22 195px,#04ff00 200px,#4fff00 215px,#7bff00 222px,#71ff00 228px,#4eff00 244px)"></i><i style="height:3px;background:linear-gradient(90deg,#00ff00,#00ff18 9px,#00ff4d 15px,#00fffb 30px,#0082ff 41px,#0040ff 50px,#0017ff 60px,#000bff 101px,#0015ff 126px,#0034ff 143px,#00a6ff 166px,#00fffc 177px,#00ff9e 186px,#00ff21 195px,#01ff00 199px,#52ff00 215px,#7fff00 222px,#77ff00 227px,#4fff00 244px)"></i><i style="height:3px;background:linear-gradient(90deg,#00ff01,#00ff17 8px,#00ff4a 14px,#00faff 30px,#0098ff 38px,#004dff 47px,#001aff 58px,#000bff 94px,#0012ff 122px,#0038ff 143px,#00a7ff 166px,#00fcff 176px,#00ffb7 184px,#00ff15 196px,#03ff00 199px,#55ff00 215px,#83ff00 222px,#7eff00 226px,#59ff00 239px,#50ff00 244px)"></i><i style="height:2px;background:linear-gradient(90deg,#00ff01,#00ff1b 8px,#00ff67 16px,#00fefe 29px,#0091ff 38px,#0049ff 47px,#0017ff 59px,#000bff 113px,#002aff 136px,#0054ff 149px,#00afff 167px,#00ffff 176px,#00ffb7 184px,#00ff13 196px,#00ff01 198px,#50ff00 214px,#83ff00 221px,#86ff00 225px,#62ff00 235px,#51ff00 244px)"></i><i style="height:2px;background:linear-gradient(90deg,#00ff01,#00ff1e 8px,#00ff7a 17px,#00fffa 28px,#008bff 38px,#0046ff 47px,#0017ff 59px,#000bff 114px,#002eff 137px,#0064ff 152px,#00b0ff 167px,#00fffc 176px,#00ffb7 184px,#00ff08 197px,#08ff00 199px,#53ff00 214px,#87ff00 221px,#89ff00 225px,#65ff00 234px,#52ff00 244px)"></i><i style="height:2px;background:linear-gradient(90deg,#00ff02,#00ff1c 7px,#00ff6b 15px,#00fff6 27px,#00f0ff 29px,#008eff 37px,#0043ff 47px,#0016ff 59px,#000cff 115px,#0033ff 138px,#0075ff 155px,#00b3ff 167px,#00feff 175px,#00ffc0 183px,#00ff05 197px,#56ff00 214px,#8bff00 221px,#8dff00 225px,#66ff00 234px,#54ff00 244px)"></i><i style="height:2px;background:linear-gradient(90deg,#00ff05,#00ff24 7px,#00ff8c 17px,#00fdfe 27px,#0087ff 37px,#003fff 47px,#0016ff 59px,#000eff 115px,#0037ff 138px,#0077ff 155px,#00b7ff 167px,#00fdff 174px,#00ffb8 183px,#02ff00 197px,#30ff00 205px,#5cff00 214px,#91ff00 221px,#93ff00 225px,#6fff00 233px,#5aff00 244px)"></i><i style="height:1px;background:linear-gradient(90deg,#00ff09,#00ff2c 7px,#00ffaf 19px,#00fffe 26px,#0080ff 37px,#003cff 47px,#0016ff 59px,#0011ff 114px,#0034ff 135px,#0067ff 151px,#00bcff 167px,#00fbff 173px,#00ffae 183px,#00ff02 196px,#2eff00 203px,#62ff00 214px,#96ff00 221px,#98ff00 225px,#73ff00 234px,#61ff00 244px)"></i><i style="height:1px;background:linear-gradient(90deg,#00ff0c,#00ff32 7px,#00fffa 25px,#00d7ff 29px,#007bff 37px,#003aff 47px,#0016ff 59px,#0012ff 112px,#002dff 131px,#0060ff 149px,#00b9ff 166px,#00fffd 173px,#00ff9b 184px,#03ff00 196px,#2fff00 202px,#67ff00 214px,#9aff00 221px,#9cff00 225px,#78ff00 234px,#66ff00 244px)"></i><i style="height:1px;background:linear-gradient(90deg,#00ff10,#00ff39 7px,#00fdff 25px,#0077ff 37px,#0038ff 47px,#0016ff 59px,#0014ff 108px,#0026ff 126px,#005bff 147px,#00afff 164px,#00e4ff 170px,#00fbff 172px,#00ff91 184px,#00ff03 195px,#2fff00 201px,#6dff00 214px,#9eff00 221px,#a0ff00 225px,#7fff00 234px,#6dff00 244px)"></i><i style="height:1px;background:linear-gradient(90deg,#00ff14,#00ff41 7px,#00fffe 24px,#0072ff 37px,#0035ff 47px,#0015ff 60px,#0016ff 108px,#002bff 127px,#0060ff 148px,#00adff 163px,#00deff 169px,#00fffc 172px,#00ffbf 178px,#00ff7b 185px,#04ff00 195px,#30ff00 200px,#7aff00 215px,#a6ff00 222px,#a1ff00 226px,#84ff00 235px,#73ff00 244px)"></i><i style="height:1px;background:linear-gradient(90deg,#00ff19,#00ff52 8px,#00fffb 23px,#00b6ff 30px,#006dff 37px,#0033ff 47px,#0015ff 60px,#0017ff 101px,#0028ff 124px,#005fff 147px,#009eff 160px,#00d9ff 168px,#00fcff 171px,#00ffb5 178px,#00ff70 185px,#00ff01 194px,#30ff00 199px,#7fff00 215px,#aaff00 222px,#a1ff00 227px,#7bff00 244px)"></i><i style="height:1px;background:linear-gradient(90deg,#00ff1e,#00ff5b 8px,#00fff9 22px,#00d2ff 27px,#006fff 36px,#0039ff 45px,#0017ff 58px,#0015ff 88px,#0029ff 122px,#0061ff 147px,#009cff 159px,#00dfff 168px,#00fffa 171px,#00ffb3 177px,#00ff64 185px,#00ff05 193px,#3dff00 200px,#86ff00 215px,#afff00 222px,#a7ff00 227px,#82ff00 244px)"></i><i style="height:1px;background:linear-gradient(90deg,#00ff24,#00ff65 8px,#00fdff 22px,#006aff 36px,#0036ff 45px,#0017ff 58px,#0016ff 86px,#002eff 123px,#0067ff 148px,#009fff 159px,#00e6ff 168px,#00feff 170px,#00ffa9 177px,#00ff4c 186px,#04ff00 193px,#3eff00 199px,#93ff00 216px,#b4ff00 222px,#a9ff00 228px,#8aff00 244px)"></i><i style="height:1px;background:linear-gradient(90deg,#00ff29,#00ff6e 8px,#00feff 21px,#0064ff 36px,#0034ff 45px,#0017ff 58px,#0016ff 84px,#0034ff 124px,#006aff 148px,#009cff 158px,#00e1ff 167px,#00fff9 170px,#00ff9e 177px,#02ff00 192px,#3fff00 198px,#a0ff00 217px,#baff00 223px,#92ff00 244px)"></i><i style="height:1px;background:linear-gradient(90deg,#00ff2f,#00ff84 9px,#00ffff 20px,#005fff 36px,#0035ff 44px,#0019ff 56px,#0015ff 81px,#003aff 125px,#006fff 149px,#00a6ff 159px,#00f3ff 168px,#00ffff 169px,#00ff89 178px,#02ff00 191px,#46ff00 198px,#adff00 218px,#c0ff00 223px,#a0ff00 242px,#9aff00 244px)"></i><i style="height:1px;background:linear-gradient(90deg,#00ff36,#00ff8e 9px,#00fffe 19px,#005aff 36px,#0032ff 44px,#0018ff 57px,#0016ff 81px,#0042ff 127px,#0076ff 150px,#00b2ff 160px,#00faff 168px,#00ffcd 172px,#00ff73 179px,#02ff00 190px,#54ff00 199px,#c4ff00 222px,#adff00 241px,#a1ff00 244px)"></i><i style="height:1px;background:linear-gradient(90deg,#00ff3c,#00ffa4 10px,#00fffd 18px,#005bff 35px,#0032ff 43px,#0018ff 56px,#0016ff 79px,#004aff 129px,#0078ff 150px,#00aeff 159px,#00fffd 168px,#00ff72 178px,#02ff00 189px,#5cff00 199px,#c9ff00 222px,#b5ff00 241px,#a9ff00 244px)"></i><i style="height:1px;background:linear-gradient(90deg,#00ff43,#00ffc7 12px,#00fffd 17px,#0056ff 35px,#002fff 43px,#0017ff 57px,#0017ff 79px,#0055ff 133px,#007fff 151px,#00baff 160px,#00fcff 167px,#00ffbc 172px,#00ff5c 179px,#03ff00 188px,#63ff00 199px,#cfff00 222px,#c1ff00 240px,#b0ff00 244px)"></i><i style="height:1px;background:linear-gradient(90deg,#00ff4a,#00fffd 16px,#0051ff 35px,#002cff 43px,#0017ff 58px,#0018ff 79px,#0060ff 137px,#0086ff 152px,#00c8ff 161px,#00fffb 167px,#00ff51 179px,#04ff00 187px,#6aff00 199px,#d4ff00 222px,#c8ff00 240px,#b7ff00 244px)"></i><i style="height:1px;background:linear-gradient(90deg,#00ff50,#00fffc 15px,#004cff 35px,#0029ff 43px,#0015ff 61px,#001aff 80px,#006dff 142px,#008eff 153px,#00e0ff 163px,#00feff 166px,#00ffac 172px,#00ff46 179px,#04ff00 186px,#71ff00 199px,#daff00 222px,#cfff00 240px,#bdff00 244px)"></i><i style="height:1px;background:linear-gradient(90deg,#00ff57,#00fffb 14px,#004dff 34px,#0028ff 42px,#0015ff 61px,#001aff 79px,#0078ff 146px,#0097ff 154px,#00efff 164px,#00fffa 166px,#00ff94 173px,#00ff31 180px,#04ff00 185px,#70ff00 198px,#baff00 213px,#e0ff00 222px,#d6ff00 240px,#c3ff00 244px)"></i><i style="height:1px;background:linear-gradient(90deg,#00ff5e,#00fff9 13px,#00c1ff 20px,#0048ff 34px,#0026ff 42px,#0014ff 65px,#001dff 80px,#0081ff 148px,#00a2ff 155px,#00ffff 165px,#00ffad 171px,#00ff33 179px,#03ff00 184px,#70ff00 197px,#b4ff00 210px,#e5ff00 222px,#dbff00 240px,#c8ff00 244px)"></i><i style="height:1px;background:linear-gradient(90deg,#00ff65,#00fcff 13px,#00a1ff 23px,#0044ff 34px,#0022ff 43px,#0015ff 73px,#0063ff 127px,#008aff 150px,#00b5ff 157px,#00faff 164px,#00ffd4 168px,#00ff2b 179px,#01ff00 183px,#6eff00 196px,#b6ff00 209px,#ebff00 222px,#dfff00 240px,#ccff00 244px)"></i><i style="height:1px;background:linear-gradient(90deg,#00ff6c,#00ffff 12px,#00aaff 21px,#0040ff 34px,#0020ff 43px,#0016ff 74px,#005eff 119px,#008dff 150px,#00b9ff 157px,#00fffe 164px,#00ffb0 170px,#00ff24 179px,#00ff03 182px,#7aff00 197px,#c4ff00 211px,#f0ff00 222px,#e6ff00 239px,#cfff00 244px)"></i><i style="height:1px;background:linear-gradient(90deg,#00ff72,#00fffb 11px,#00a2ff 21px,#003dff 34px,#001eff 43px,#0017ff 74px,#0061ff 117px,#0090ff 150px,#00b4ff 156px,#00faff 163px,#00ffc8 168px,#00ff1e 179px,#03ff00 182px,#70ff00 195px,#c0ff00 209px,#f6ff00 222px,#e8ff00 239px,#d1ff00 244px)"></i><i style="height:1px;background:linear-gradient(90deg,#00ff79,#00fbff 11px,#00abff 19px,#0039ff 34px,#001dff 43px,#0019ff 75px,#0062ff 114px,#0094ff 150px,#00b8ff 156px,#00ffff 163px,#00ffb4 169px,#00ff19 179px,#00ff03 181px,#7aff00 196px,#c9ff00 210px,#fbff00 222px,#e9ff00 239px,#d2ff00 244px)"></i><i style="height:1px;background:linear-gradient(90deg,#00ff81,#00fffe 10px,#00a4ff 19px,#0036ff 34px,#001bff 43px,#001cff 75px,#0066ff 112px,#0098ff 150px,#00bdff 156px,#00fffa 163px,#00ffaf 169px,#00ff14 179px,#02ff00 181px,#68ff00 193px,#c4ff00 208px,#fffe00 221px,#f1ff00 236px,#d4ff00 244px)"></i><i style="height:1px;background:linear-gradient(90deg,#00ff89,#00fff9 9px,#00c1ff 15px,#003dff 32px,#001bff 42px,#001fff 75px,#0069ff 110px,#009dff 150px,#00c1ff 156px,#00feff 162px,#00ffaa 169px,#00ff10 179px,#06ff00 181px,#72ff00 194px,#cdff00 209px,#fffc00 220px,#f9ff00 233px,#deff00 242px,#d5ff00 244px)"></i><i style="height:1px;background:linear-gradient(90deg,#00ff91,#00feff 9px,#009fff 18px,#0034ff 33px,#0018ff 43px,#0023ff 75px,#006eff 109px,#00a1ff 150px,#00c6ff 156px,#00fffb 162px,#00ffa5 169px,#00ff0c 179px,#00ff00 180px,#5fff00 191px,#c6ff00 207px,#fffb00 219px,#fff400 225px,#f7ff00 235px,#d6ff00 244px)"></i><i style="height:1px;background:linear-gradient(90deg,#00ff9a,#00fffb 8px,#0098ff 18px,#0031ff 33px,#0017ff 43px,#0027ff 75px,#0074ff 108px,#00a6ff 150px,#00cbff 156px,#00fdff 161px,#00ffa0 169px,#00ff07 179px,#18ff00 182px,#94ff00 198px,#feff00 217px,#ffed00 223px,#f9ff00 235px,#d7ff00 244px)"></i><i style="height:1px;background:linear-gradient(90deg,#00ffa3,#00fbff 8px,#009aff 17px,#0038ff 31px,#0017ff 41px,#002dff 75px,#007aff 107px,#00a9ff 149px,#00c8ff 155px,#00fffb 161px,#00ff9b 169px,#00ff04 179px,#73ff00 193px,#ddff00 210px,#fffb00 217px,#ffe800 222px,#faff00 235px,#d8ff00 244px)"></i><i style="height:1px;background:linear-gradient(90deg,#00ffad,#00fffe 7px,#008aff 18px,#0039ff 30px,#0017ff 40px,#0024ff 63px,#003aff 78px,#0082ff 107px,#00afff 149px,#00cdff 155px,#00fdff 160px,#00ffa4 168px,#00ff00 179px,#51ff00 188px,#d0ff00 207px,#fffd00 216px,#ffe200 222px,#fbff00 235px,#d8ff00 244px)"></i><i style="height:1px;background:linear-gradient(90deg,#00ffb7,#00fffa 6px,#007cff 19px,#0035ff 30px,#0015ff 40px,#001bff 49px,#003bff 76px,#0087ff 105px,#00b5ff 149px,#00d3ff 155px,#00fffb 160px,#00ff91 169px,#00ff08 178px,#0fff00 180px,#78ff00 193px,#efff00 212px,#fff800 216px,#ffdd00 222px,#f9ff00 236px,#d9ff00 244px)"></i><i style="height:1px;background:linear-gradient(90deg,#00ffc1,#00fcff 6px,#0086ff 17px,#0046ff 26px,#0019ff 37px,#0015ff 46px,#0045ff 77px,#008fff 105px,#00b9ff 148px,#00d2ff 154px,#00feff 159px,#00ff8b 169px,#00ff05 178px,#64ff00 190px,#e8ff00 210px,#fffa00 215px,#ffd800 221px,#ffe400 227px,#faff00 236px,#daff00 244px)"></i><i style="height:1px;background:linear-gradient(90deg,#00ffcb,#00fffe 5px,#0077ff 18px,#0040ff 26px,#0017ff 37px,#0014ff 46px,#004dff 77px,#0098ff 105px,#00bfff 148px,#00d9ff 154px,#00fff9 159px,#00ff86 169px,#00ff01 178px,#51ff00 187px,#ecff00 210px,#fffb00 214px,#ffd300 221px,#ffdb00 226px,#fcff00 236px,#daff00 244px)"></i><i style="height:1px;background:linear-gradient(90deg,#00ffd5,#00fffc 4px,#0068ff 19px,#0036ff 27px,#0012ff 39px,#0013ff 46px,#0057ff 78px,#00a1ff 105px,#00c4ff 147px,#00dfff 154px,#00fffd 158px,#00ff81 169px,#02ff00 178px,#4cff00 186px,#f5ff00 211px,#fff100 215px,#ffcd00 221px,#ffd200 225px,#fdff00 236px,#dbff00 244px)"></i><i style="height:1px;background:linear-gradient(90deg,#00ffdf,#00f9ff 4px,#006bff 18px,#003aff 25px,#0011ff 38px,#0013ff 46px,#0063ff 79px,#00a9ff 105px,#00cbff 147px,#00e7ff 154px,#00ffff 157px,#00ff89 168px,#00ff07 177px,#1cff00 180px,#9dff00 197px,#ffff00 212px,#ffc700 221px,#ffcc00 225px,#feff00 236px,#dcff00 244px)"></i><i style="height:1px;background:linear-gradient(90deg,#00ffea,#00faff 3px,#005cff 19px,#0031ff 26px,#000fff 39px,#0012ff 46px,#0072ff 81px,#00b2ff 105px,#00d1ff 146px,#00e7ff 153px,#00fdff 156px,#00ff90 167px,#00ff03 177px,#4aff00 185px,#fdff00 211px,#ffc100 221px,#ffc700 225px,#ffff00 236px,#dcff00 244px)"></i><i style="height:1px;background:linear-gradient(90deg,#00fff4,#00f1ff 3px,#0057ff 19px,#002cff 26px,#000dff 40px,#0016ff 47px,#00b7ff 103px,#00d8ff 146px,#00efff 153px,#00fff9 156px,#00ff7e 168px,#01ff00 177px,#45ff00 184px,#fffd00 211px,#ffbb00 221px,#ffc100 225px,#fffe00 236px,#ddff00 244px)"></i><i style="height:1px;background:linear-gradient(90deg,#00ffff,#009bff 11px,#0042ff 21px,#0022ff 28px,#000cff 41px,#0015ff 47px,#00b9ff 100px,#00ccff 119px,#00e0ff 146px,#00f7ff 153px,#00fff1 156px,#00ff77 168px,#00ff08 176px,#11ff00 178px,#57ff00 186px,#ffff00 210px,#ffb400 221px,#ffbc00 225px,#fff800 235px,#ebff00 241px,#deff00 244px)"></i><i style="height:1px;background:linear-gradient(90deg,#00f5ff,#0094ff 11px,#003dff 21px,#001fff 28px,#000bff 42px,#001eff 49px,#00baff 97px,#00d2ff 113px,#00e7ff 145px,#00fffe 153px,#00ffb1 162px,#00ff57 170px,#00ff04 176px,#4bff00 184px,#fdff00 209px,#ffc200 218px,#ffac00 222px,#ffbd00 226px,#fff600 235px,#f5ff00 239px,#e0ff00 244px)"></i><i style="height:1px;background:linear-gradient(90deg,#00ebff,#008dff 11px,#003fff 20px,#0021ff 26px,#000bff 42px,#001aff 48px,#00b1ff 91px,#00d6ff 108px,#00efff 145px,#00fffb 152px,#00ffbd 160px,#00ff51 170px,#01ff00 176px,#47ff00 183px,#fffd00 209px,#ffa800 221px,#ffaa00 224px,#fff400 235px,#f6ff00 239px,#e1ff00 244px)"></i><i style="height:1px;background:linear-gradient(90deg,#00e1ff,#0085ff 11px,#003aff 20px,#001fff 26px,#000bff 43px,#0029ff 51px,#00b4ff 89px,#00dcff 107px,#00f8ff 145px,#00fff6 151px,#00ffc7 158px,#00ff57 169px,#05ff00 176px,#4aff00 183px,#ffff00 208px,#ffb600 218px,#ff9f00 222px,#ffb200 226px,#ffec00 234px,#f8ff00 239px,#e2ff00 244px)"></i><i style="height:1px;background:linear-gradient(90deg,#00d7ff,#007dff 11px,#0035ff 20px,#001aff 27px,#000cff 44px,#009fff 80px,#00e0ff 104px,#00fffa 146px,#00ffdc 154px,#00ff71 166px,#00ff02 175px,#4eff00 183px,#feff00 207px,#ffb800 217px,#ff9b00 221px,#ff9d00 224px,#ffee00 235px,#faff00 239px,#e5ff00 244px)"></i><i style="height:1px;background:linear-gradient(90deg,#00ccff,#006bff 12px,#002bff 21px,#0014ff 30px,#000cff 44px,#0099ff 76px,#00e2ff 101px,#00fffe 135px,#00ffe3 150px,#00ffb9 157px,#00ff46 169px,#04ff00 175px,#4aff00 182px,#fdff00 206px,#ffb100 217px,#ff9300 221px,#ff9600 224px,#ffea00 235px,#f9ff00 240px,#e8ff00 244px)"></i><i style="height:1px;background:linear-gradient(90deg,#00c0ff,#0037ff 18px,#0018ff 26px,#000dff 44px,#0096ff 73px,#00e3ff 98px,#00ffff 119px,#00ffde 146px,#00ffc0 154px,#00ff51 167px,#00ff01 174px,#4fff00 182px,#fdff00 205px,#ffa900 217px,#ff8b00 221px,#ff8d00 224px,#ffe400 235px,#feff00 240px,#ecff00 244px)"></i><i style="height:1px;background:linear-gradient(90deg,#00b3ff,#0036ff 17px,#0017ff 25px,#000dff 43px,#0027ff 49px,#008bff 68px,#00d9ff 91px,#00ffff 110px,#00ffd2 144px,#00ffae 154px,#00ff3b 168px,#00ff04 173px,#5bff00 183px,#ddff00 200px,#feff00 204px,#ffa000 217px,#ff8100 221px,#ff8400 224px,#ffe300 236px,#faff00 242px,#f2ff00 244px)"></i><i style="height:1px;background:linear-gradient(90deg,#00a7ff,#0034ff 16px,#0015ff 25px,#000fff 43px,#002bff 49px,#0090ff 67px,#00ddff 89px,#00fffb 106px,#00ffbf 144px,#00ff9a 154px,#00ff2d 168px,#06ff00 173px,#58ff00 182px,#ccff00 197px,#ffff00 203px,#ff8d00 218px,#ff7500 222px,#ff8100 225px,#ffdb00 236px,#fcff00 243px,#f8ff00 244px)"></i><i style="height:1px;background:linear-gradient(90deg,#009aff,#002cff 16px,#0012ff 26px,#0010ff 42px,#0029ff 48px,#0080ff 62px,#00c5ff 78px,#00fffd 101px,#00ffaf 143px,#00ff80 155px,#00ff0e 170px,#06ff00 172px,#64ff00 183px,#caff00 196px,#fffe00 202px,#ff8300 218px,#ff6c00 222px,#ff7700 225px,#ffda00 237px,#ffff00 244px)"></i><i style="height:1px;background:linear-gradient(90deg,#008dff,#0029ff 15px,#0010ff 26px,#0011ff 41px,#0027ff 47px,#007eff 60px,#00c1ff 74px,#00fffe 97px,#00ffa3 141px,#00ff6b 155px,#00ff02 170px,#77ff00 185px,#d1ff00 196px,#fffe00 201px,#ff6500 221px,#ff6700 224px,#ffdf00 239px,#fff800 244px)"></i><i style="height:1px;background:linear-gradient(90deg,#0081ff,#002aff 13px,#0010ff 24px,#0010ff 39px,#0026ff 46px,#0082ff 59px,#00c8ff 73px,#00fffc 94px,#00ffa6 134px,#00ff62 153px,#02ff00 169px,#c4ff00 194px,#ffff00 200px,#ff5c00 221px,#ff5e00 224px,#ffdd00 240px,#fff200 244px)"></i><i style="height:1px;background:linear-gradient(90deg,#0077ff,#002cff 11px,#0015ff 18px,#000dff 36px,#0025ff 45px,#008cff 59px,#00cfff 72px,#00fffd 90px,#00ffad 127px,#00ff62 149px,#00ff07 166px,#0dff00 169px,#b6ff00 192px,#fcff00 199px,#ff5400 221px,#ff5600 224px,#ffdc00 241px,#ffec00 244px)"></i><i style="height:1px;background:linear-gradient(90deg,#006eff,#002aff 10px,#0012ff 17px,#000fff 37px,#002bff 45px,#0089ff 57px,#00d2ff 70px,#00fffc 87px,#00ffaf 123px,#00ff5b 147px,#04ff00 166px,#b1ff00 191px,#fffc00 199px,#ff9900 211px,#ff4d00 221px,#ff4f00 224px,#ffd700 241px,#ffe700 244px)"></i><i style="height:1px;background:linear-gradient(90deg,#0066ff,#0028ff 9px,#000fff 16px,#0010ff 37px,#0032ff 45px,#008cff 56px,#00d8ff 69px,#00fffd 83px,#00ffb1 120px,#00ff53 146px,#02ff00 164px,#94ff00 187px,#e7ff00 196px,#fdff00 198px,#ff9400 211px,#ff4700 221px,#ff4a00 224px,#ffd800 242px,#ffe300 244px)"></i><i style="height:1px;background:linear-gradient(90deg,#0062ff,#0029ff 8px,#000cff 16px,#000eff 36px,#0039ff 45px,#0090ff 55px,#00deff 68px,#00fffd 79px,#00ffb6 117px,#00ff4f 145px,#04ff00 163px,#80ff00 184px,#c9ff00 193px,#ffff00 198px,#ff9e00 209px,#ff4400 221px,#ff4700 224px,#ffd600 242px,#ffe100 244px)"></i><i style="height:1px;background:linear-gradient(90deg,#0062ff,#0029ff 8px,#000dff 16px,#0010ff 36px,#0042ff 45px,#009bff 55px,#00e8ff 68px,#00fffc 76px,#00ffd7 98px,#00ffb4 117px,#00ff4c 145px,#02ff00 162px,#78ff00 183px,#c7ff00 193px,#fdff00 198px,#ff9b00 210px,#ff4a00 221px,#ff4c00 224px,#ffdf00 243px,#ffe400 244px)"></i><i style="height:1px;background:linear-gradient(90deg,#006dff,#002eff 9px,#0015ff 16px,#0016ff 35px,#0041ff 43px,#00a7ff 55px,#00f1ff 68px,#00fffa 74px,#00ffd8 93px,#00ffbe 114px,#00ff56 143px,#05ff00 163px,#7cff00 185px,#cbff00 195px,#fbff00 200px,#ff6e00 221px,#ff7500 225px,#fff600 243px,#fffa00 244px)"></i><i style="height:1px;background:linear-gradient(90deg,#0086ff,#003cff 11px,#0027ff 18px,#0026ff 32px,#003eff 39px,#0081ff 48px,#00c8ff 58px,#00fdff 69px,#00ffd8 88px,#00ffc0 114px,#00ff56 144px,#01ff00 164px,#86ff00 191px,#fcff00 208px,#ffbe00 222px,#ffcf00 227px,#fffe00 235px,#ccff00 244px)"></i><i style="height:1px;background:linear-gradient(90deg,#00a8ff,#004dff 15px,#003bff 28px,#0055ff 37px,#00a1ff 49px,#00f8ff 65px,#00fff2 71px,#00ffd2 88px,#00ffc3 114px,#00ff60 144px,#03ff00 168px,#7eff00 200px,#d0ff00 222px,#b7ff00 230px,#7dff00 244px)"></i><i style="height:1px;background:linear-gradient(90deg,#00cdff,#0078ff 16px,#0063ff 28px,#0084ff 38px,#00f5ff 61px,#00fff6 66px,#00ffcb 86px,#00ffc4 114px,#00ff7d 141px,#00ff0c 173px,#07ff00 181px,#57ff00 223px,#25ff00 244px)"></i><i style="height:1px;background:linear-gradient(90deg,#00f0ff,#00a5ff 23px,#00a2ff 30px,#00fffd 59px,#00ffc0 85px,#00ffbf 121px,#00ff97 144px,#00ff45 172px,#00ff2d 196px,#00ff1a 225px,#00ff38 244px)"></i><i style="height:1px;background:linear-gradient(90deg,#00fff5,#00f7ff 12px,#00dcff 28px,#00fff9 51px,#00ffb2 87px,#00ffd0 138px,#00ff7e 179px,#00ff79 230px,#00ff8b 244px)"></i><i style="height:1px;background:linear-gradient(90deg,#00ffec,#00ffff 32px,#00ffb9 76px,#00ffa6 90px,#00ffc5 115px,#00fff5 138px,#00ffe4 155px,#00ffb6 182px,#00ffb5 232px,#00ffc4 244px)"></i><i style="height:1px;background:linear-gradient(90deg,#00ffeb,#00ffee 34px,#00ffad 76px,#00ff99 89px,#00ffb6 109px,#00fdff 130px,#00e0ff 143px,#00e7ff 157px,#00fffb 171px,#00ffde 187px,#00ffdd 231px,#00ffec 244px)"></i><i style="height:1px;background:linear-gradient(90deg,#00ffef,#00ffe6 33px,#00ff9b 78px,#00ff8c 90px,#00ffaf 108px,#00ffe7 120px,#00f9ff 125px,#00c0ff 137px,#00a9ff 150px,#00c6ff 169px,#00eeff 185px,#00f8ff 201px,#00edff 233px,#00deff 244px)"></i><i style="height:1px;background:linear-gradient(90deg,#00fffc,#00ffe6 30px,#00ff7d 88px,#00ff92 101px,#00ffbb 112px,#00feff 121px,#009eff 133px,#007bff 142px,#006eff 152px,#008dff 170px,#00b7ff 186px,#00c0ff 201px,#00afff 228px,#0096ff 244px)"></i><i style="height:1px;background:linear-gradient(90deg,#00ecff,#00fffa 21px,#00ff71 84px,#00ff75 95px,#00ffa1 109px,#00ffd7 116px,#00fcff 120px,#007fff 132px,#0057ff 139px,#0043ff 150px,#005dff 168px,#008aff 185px,#0095ff 199px,#007eff 226px,#005aff 244px)"></i><i style="height:1px;background:linear-gradient(90deg,#00ccff,#00e1ff 15px,#00fffa 25px,#00ffb3 49px,#00ff60 86px,#00ff69 97px,#00ff90 109px,#00ffd8 117px,#00fffb 120px,#0077ff 133px,#0057ff 139px,#0044ff 151px,#0064ff 170px,#008dff 186px,#0095ff 201px,#007fff 226px,#005bff 244px)"></i><i style="height:1px;background:linear-gradient(90deg,#00a5ff,#00b7ff 13px,#00ffff 27px,#00ffb6 46px,#00ff50 86px,#00ff5b 99px,#00ff79 109px,#00ffbd 117px,#00fffe 123px,#009eff 133px,#0081ff 139px,#0073ff 152px,#0096ff 171px,#00bcff 187px,#00c3ff 203px,#00b3ff 228px,#0099ff 244px)"></i><i style="height:1px;background:linear-gradient(90deg,#0085ff,#0097ff 13px,#00fffe 29px,#00ffb5 45px,#00ff49 82px,#00ff42 93px,#00ff5f 109px,#00ff99 117px,#00fbff 128px,#00c5ff 136px,#00b1ff 150px,#00ceff 169px,#00f9ff 186px,#00fffd 207px,#00f6ff 233px,#00e8ff 244px)"></i><i style="height:1px;background:linear-gradient(90deg,#0074ff,#0082ff 12px,#00ddff 25px,#00fffa 30px,#00ffaf 45px,#00ff52 74px,#00ff33 87px,#00ff41 107px,#00ff62 114px,#00fff3 132px,#00f8ff 136px,#00ecff 152px,#00fffa 168px,#00ffce 187px,#00ffc8 209px,#00ffd1 237px,#00ffda 244px)"></i><i style="height:1px;background:linear-gradient(90deg,#006cff,#0079ff 12px,#00bfff 22px,#00fdff 29px,#00ffbb 41px,#00ff58 68px,#00ff27 87px,#00ff32 109px,#00ff62 118px,#00ffc5 132px,#00ffda 139px,#00ffd7 157px,#00ff95 192px,#00ff98 233px,#00ffa6 244px)"></i><i style="height:1px;background:linear-gradient(90deg,#0066ff,#0078ff 13px,#00b9ff 22px,#00fbff 29px,#00ffbd 40px,#00ff4f 70px,#00ff23 87px,#00ff25 110px,#00ff51 120px,#00ff95 133px,#00ffa1 142px,#00ff99 158px,#00ff45 197px,#00ff31 225px,#00ff52 244px)"></i><i style="height:1px;background:linear-gradient(90deg,#0062ff,#0075ff 13px,#0098ff 19px,#00fffe 30px,#00ffc7 39px,#00ff4d 73px,#00ff27 89px,#00ff1b 111px,#00ff5a 136px,#00ff58 155px,#00ff0c 180px,#04ff00 184px,#6dff00 210px,#8dff00 223px,#3eff00 244px)"></i><i style="height:1px;background:linear-gradient(90deg,#005eff,#0072ff 13px,#0091ff 19px,#00fffb 31px,#00ffcb 40px,#00ff40 81px,#00ff16 106px,#00ff1c 128px,#00ff1c 154px,#06ff00 164px,#55ff00 182px,#d1ff00 200px,#fffe00 206px,#ffb300 222px,#ffc400 227px,#fffe00 236px,#ceff00 244px)"></i><i style="height:1px;background:linear-gradient(90deg,#005aff,#0070ff 13px,#008eff 19px,#00ffff 31px,#00ffcf 40px,#00ff41 82px,#00ff14 107px,#03ff00 153px,#67ff00 177px,#c1ff00 191px,#feff00 198px,#ffad00 208px,#ff5f00 221px,#ff6500 225px,#ffea00 243px,#ffee00 244px)"></i><i style="height:1px;background:linear-gradient(90deg,#0057ff,#006cff 12px,#0085ff 18px,#00ffff 31px,#00ffd0 40px,#00ff4a 78px,#00ff18 103px,#05ff00 145px,#1cff00 156px,#91ff00 182px,#e4ff00 194px,#ffff00 197px,#ffa300 208px,#ff5100 221px,#ff5700 225px,#ffdc00 242px,#ffe600 244px)"></i><i style="height:1px;background:linear-gradient(90deg,#0054ff,#006bff 12px,#008eff 19px,#00feff 31px,#00ffcb 41px,#00ff4f 74px,#00ff1f 97px,#04ff00 142px,#24ff00 156px,#a1ff00 184px,#ecff00 195px,#feff00 197px,#ff9c00 210px,#ff5500 221px,#ff5c00 225px,#ffaf00 235px,#ffe800 243px,#ffec00 244px)"></i><i style="height:2px;background:linear-gradient(90deg,#0052ff,#006bff 12px,#008fff 19px,#00ffff 31px,#00ffc5 42px,#00ff4e 72px,#00ff21 94px,#04ff00 142px,#28ff00 156px,#aeff00 186px,#f3ff00 196px,#fff200 199px,#ff5d00 221px,#ff6300 225px,#ffae00 234px,#ffdf00 240px,#fff200 244px)"></i><i style="height:2px;background:linear-gradient(90deg,#0054ff,#006bff 11px,#008cff 18px,#00fffe 31px,#00ffc3 42px,#00ff4e 71px,#00ff20 93px,#04ff00 142px,#29ff00 156px,#aeff00 186px,#fffc00 198px,#ff6300 221px,#ff6a00 225px,#ffb400 234px,#ffe400 240px,#fff600 244px)"></i><i style="height:2px;background:linear-gradient(90deg,#0058ff,#0074ff 11px,#009fff 19px,#00fdff 30px,#00ffb2 45px,#00ff49 72px,#00ff1c 94px,#04ff00 142px,#29ff00 156px,#aeff00 186px,#fffe00 198px,#ff6800 221px,#ff6f00 225px,#ffb900 234px,#ffe700 240px,#fff800 244px)"></i><i style="height:1px;background:linear-gradient(90deg,#005cff,#0080ff 12px,#00b1ff 20px,#00fffd 30px,#00ffb3 44px,#00ff48 72px,#00ff1b 94px,#03ff00 141px,#29ff00 156px,#aeff00 186px,#ffff00 198px,#ff6c00 221px,#ff7200 225px,#ffbc00 234px,#ffe900 240px,#fff900 244px)"></i><i style="height:1px;background:linear-gradient(90deg,#005eff,#0087ff 12px,#00b9ff 20px,#00feff 29px,#00ffb1 44px,#00ff47 72px,#00ff19 95px,#01ff00 140px,#25ff00 155px,#a9ff00 185px,#feff00 198px,#ff6e00 221px,#ff7500 225px,#ffc700 235px,#fff300 242px,#fffa00 244px)"></i><i style="height:1px;background:linear-gradient(90deg,#0061ff,#008dff 12px,#00d0ff 22px,#00fffc 29px,#00ffaf 44px,#00ff47 72px,#00ff18 95px,#00ff06 126px,#07ff00 144px,#31ff00 158px,#aeff00 186px,#fffa00 199px,#ff7100 221px,#ff7700 225px,#ffe600 239px,#fffb00 244px)"></i><i style="height:1px;background:linear-gradient(90deg,#0064ff,#0094ff 12px,#00fffe 28px,#00ffad 44px,#00ff46 72px,#00ff17 95px,#00ff06 124px,#05ff00 143px,#2dff00 157px,#aeff00 186px,#fffc00 199px,#ff7300 221px,#ff7a00 225px,#ffe700 239px,#fffc00 244px)"></i><i style="height:1px;background:linear-gradient(90deg,#0067ff,#009aff 12px,#00feff 27px,#00ffa1 46px,#00ff42 73px,#00ff15 96px,#00ff04 131px,#09ff00 145px,#36ff00 159px,#afff00 186px,#fffd00 199px,#ff7600 221px,#ff7d00 225px,#ffe900 239px,#fffc00 244px)"></i><i style="height:1px;background:linear-gradient(90deg,#006aff,#00a7ff 13px,#00fffb 27px,#00ff9e 46px,#00ff40 73px,#00ff14 96px,#01ff00 140px,#25ff00 155px,#a9ff00 185px,#fffe00 199px,#ff7a00 221px,#ff8000 225px,#ffea00 239px,#fffd00 244px)"></i><i style="height:1px;background:linear-gradient(90deg,#006dff,#00b5ff 14px,#00fffb 26px,#00ffa2 44px,#00ff41 72px,#00ff14 95px,#00ff00 138px,#1eff00 153px,#a4ff00 184px,#fffb00 200px,#ff8f00 218px,#ff7c00 222px,#ff8a00 226px,#ffec00 239px,#ffff00 244px)"></i><i style="height:1px;background:linear-gradient(90deg,#0070ff,#00caff 16px,#00fffa 25px,#00ffa9 41px,#00ff41 71px,#00ff13 95px,#03ff00 140px,#2aff00 156px,#abff00 185px,#fffd00 200px,#ff9300 218px,#ff8000 222px,#ff8f00 226px,#ffee00 239px,#feff00 244px)"></i><i style="height:1px;background:linear-gradient(90deg,#0073ff,#00ffff 23px,#00ffaa 39px,#00ff3b 72px,#00ff12 96px,#06ff00 141px,#2fff00 157px,#b1ff00 186px,#fffb00 201px,#ff9f00 217px,#ff8400 222px,#ff9400 226px,#ffec00 238px,#fdff00 244px)"></i><i style="height:1px;background:linear-gradient(90deg,#0077ff,#00fffd 22px,#00ffab 37px,#00ff38 72px,#00ff11 96px,#06ff00 140px,#2fff00 157px,#adff00 185px,#fffe00 201px,#ffa400 217px,#ff8900 222px,#ff9900 226px,#ffee00 238px,#fcff00 244px)"></i><i style="height:1px;background:linear-gradient(90deg,#007aff,#00fffc 21px,#00ffa4 37px,#00ff35 72px,#00ff0f 97px,#06ff00 138px,#29ff00 155px,#8cff00 178px,#fffd00 202px,#ffa900 217px,#ff8e00 222px,#ff9e00 226px,#fff100 238px,#faff00 244px)"></i><i style="height:2px;background:linear-gradient(90deg,#007eff,#00fefd 19px,#00ff9c 37px,#00ff30 73px,#00ff0e 97px,#06ff00 136px,#28ff00 154px,#75ff00 173px,#fffd00 203px,#ffb100 217px,#ff9500 222px,#ffa500 226px,#fff400 238px,#f8ff00 244px)"></i><i style="height:2px;background:linear-gradient(90deg,#0082ff,#00fcff 17px,#00ff96 37px,#00ff2c 74px,#00ff0e 95px,#07ff00 134px,#25ff00 152px,#67ff00 170px,#e0ff00 196px,#fffa00 205px,#ffb900 217px,#ff9e00 222px,#ffae00 226px,#fff800 238px,#f5ff00 244px)"></i><i style="height:2px;background:linear-gradient(90deg,#0084ff,#00faff 16px,#00ff94 37px,#00ff2c 74px,#00ff0d 94px,#07ff00 132px,#24ff00 151px,#6aff00 170px,#d3ff00 193px,#fffa00 206px,#ffc100 217px,#ffa700 222px,#ffb600 226px,#fffc00 238px,#f1ff00 244px)"></i><i style="height:2px;background:linear-gradient(90deg,#0086ff,#00feff 16px,#00ff96 36px,#00ff37 69px,#00ff0d 91px,#08ff00 131px,#24ff00 150px,#6eff00 170px,#d3ff00 193px,#fffb00 207px,#ffc200 218px,#ffb000 222px,#ffbe00 226px,#fffc00 237px,#edff00 244px)"></i><i style="height:2px;background:linear-gradient(90deg,#0088ff,#00fbff 15px,#00ff95 36px,#00ff40 65px,#00ff0c 90px,#07ff00 126px,#1fff00 147px,#58ff00 164px,#d2ff00 193px,#fffc00 208px,#ffca00 218px,#ffb800 222px,#ffcd00 227px,#feff00 237px,#e9ff00 244px)"></i><i style="height:2px;background:linear-gradient(90deg,#008aff,#00f8ff 14px,#00ffe7 19px,#00ff93 36px,#00ff45 63px,#00ff0a 90px,#06ff00 120px,#1fff00 146px,#4cff00 160px,#d2ff00 193px,#fffd00 209px,#ffcc00 219px,#ffc200 223px,#feff00 236px,#e5ff00 244px)"></i><i style="height:2px;background:linear-gradient(90deg,#008eff,#00f0ff 12px,#00fffb 15px,#00ff9c 33px,#00ff4f 58px,#00ff08 90px,#09ff00 121px,#21ff00 146px,#4bff00 159px,#ccff00 191px,#fffb00 211px,#ffcc00 222px,#ffe400 228px,#faff00 236px,#e2ff00 244px)"></i><i style="height:1px;background:linear-gradient(90deg,#0091ff,#00e9ff 10px,#00fffb 14px,#00ff98 33px,#00ff4d 58px,#00ff06 90px,#1aff00 141px,#3dff00 155px,#c3ff00 188px,#fffa00 213px,#ffd500 222px,#fdff00 234px,#dfff00 244px)"></i><i style="height:1px;background:linear-gradient(90deg,#0094ff,#00e8ff 9px,#00fffc 13px,#00ff92 34px,#00ff47 60px,#00ff04 90px,#1dff00 142px,#42ff00 156px,#c0ff00 187px,#fffb00 214px,#ffdd00 222px,#fcff00 233px,#deff00 244px)"></i><i style="height:2px;background:linear-gradient(90deg,#0099ff,#00eaff 8px,#00fffa 12px,#00ff86 36px,#00ff37 66px,#00ff02 90px,#21ff00 143px,#49ff00 157px,#bbff00 185px,#fffb00 216px,#ffe800 223px,#fbff00 231px,#dcff00 244px)"></i><i style="height:2px;background:linear-gradient(90deg,#00a0ff,#00edff 7px,#00fffc 10px,#00ff80 36px,#00ff01 88px,#24ff00 143px,#4bff00 157px,#baff00 184px,#fffb00 218px,#fff400 224px,#f5ff00 231px,#daff00 244px)"></i><i style="height:3px;background:linear-gradient(90deg,#00a8ff,#00f6ff 7px,#00fff3 10px,#00ff7c 36px,#00ff00 89px,#25ff00 143px,#4cff00 157px,#b9ff00 184px,#fffa00 220px,#f8ff00 229px,#d9ff00 244px)"></i><i style="height:3px;background:linear-gradient(90deg,#00b1ff,#00fcff 7px,#00ffa4 25px,#00ff71 39px,#00ff02 90px,#25ff00 143px,#4bff00 157px,#bbff00 186px,#fffc00 221px,#f5ff00 231px,#d9ff00 244px)"></i><i style="height:3px;background:linear-gradient(90deg,#00baff,#00fffc 7px,#00ffaf 21px,#00ff71 38px,#00ff08 89px,#0cff00 114px,#29ff00 145px,#59ff00 161px,#c9ff00 193px,#fffd00 222px,#e8ff00 239px,#d9ff00 244px)"></i><i style="height:3px;background:linear-gradient(90deg,#00c1ff,#00feff 6px,#00ffb4 19px,#00ff75 36px,#00ff0c 87px,#06ff00 107px,#27ff00 144px,#56ff00 161px,#cfff00 197px,#ffff00 223px,#e8ff00 239px,#d9ff00 244px)"></i><i style="height:3px;background:linear-gradient(90deg,#00c7ff,#00fbff 5px,#00ffb1 19px,#00ff7a 34px,#00ff0e 86px,#05ff00 108px,#26ff00 144px,#5dff00 164px,#d1ff00 199px,#fcff00 223px,#eaff00 238px,#d8ff00 244px)"></i><i style="height:3px;background:linear-gradient(90deg,#00ccff,#00fffe 5px,#00ffcb 13px,#00ff8a 28px,#00ff10 84px,#04ff00 108px,#24ff00 144px,#66ff00 168px,#d2ff00 201px,#faff00 222px,#eeff00 236px,#d6ff00 244px)"></i><i style="height:3px;background:linear-gradient(90deg,#00d1ff,#00fbff 4px,#00ffc8 13px,#00ff88 28px,#00ff0f 85px,#04ff00 110px,#22ff00 144px,#65ff00 169px,#d1ff00 202px,#f8ff00 222px,#e9ff00 237px,#d4ff00 244px)"></i><i style="height:3px;background:linear-gradient(90deg,#00d4ff,#00fffe 4px,#00ffd3 10px,#00ff8a 27px,#00ff0d 86px,#05ff00 113px,#1eff00 144px,#63ff00 170px,#cfff00 203px,#f6ff00 222px,#e3ff00 238px,#d1ff00 244px)"></i></div>
<div class="f" style="left:344px;top:595px;width:251px;height:219px"><i style="height:3px;background:linear-gradient(90deg,#0000ff,#0006ff 132px,#0024ff 208px,#001aff 250px)"></i><i style="height:3px;background:linear-gradient(90deg,#0000ff,#0006ff 132px,#0024ff 208px,#001aff 250px)"></i><i style="height:3px;background:linear-gradient(90deg,#0000ff,#0006ff 132px,#0024ff 208px,#001aff 250px)"></i><i style="height:3px;background:linear-gradient(90deg,#0000ff,#0006ff 132px,#0023ff 208px,#0019ff 250px)"></i><i style="height:3px;background:linear-gradient(90deg,#0000ff,#0006ff 132px,#0023ff 208px,#0019ff 250px)"></i><i style="height:3px;background:linear-gradient(90deg,#0000ff,#0006ff 132px,#0023ff 208px,#0019ff 250px)"></i><i style="height:3px;background:linear-gradient(90deg,#0000ff,#0005ff 131px,#0023ff 208px,#0019ff 250px)"></i><i style="height:3px;background:linear-gradient(90deg,#0000ff,#0005ff 131px,#0023ff 208px,#0019ff 250px)"></i><i style="height:3px;background:linear-gradient(90deg,#0000ff,#0005ff 131px,#0023ff 208px,#0018ff 250px)"></i><i style="height:3px;background:linear-gradient(90deg,#0000ff,#0005ff 131px,#0022ff 208px,#0018ff 250px)"></i><i style="height:3px;background:linear-gradient(90deg,#0000ff,#0005ff 131px,#0022ff 208px,#0018ff 250px)"></i><i style="height:3px;background:linear-gradient(90deg,#0000ff,#0005ff 131px,#0022ff 208px,#0018ff 250px)"></i><i style="height:3px;background:linear-gradient(90deg,#0000ff,#0005ff 131px,#0022ff 207px,#0018ff 250px)"></i><i style="height:3px;background:linear-gradient(90deg,#0000ff,#0005ff 131px,#0021ff 207px,#0017ff 250px)"></i><i style="height:3px;background:linear-gradient(90deg,#0000ff,#0005ff 131px,#0021ff 207px,#0017ff 250px)"></i><i style="height:3px;background:linear-gradient(90deg,#0000ff,#0005ff 131px,#0021ff 207px,#0017ff 250px)"></i><i style="height:3px;background:linear-gradient(90deg,#0000ff,#0005ff 131px,#0020ff 207px,#0016ff 250px)"></i><i style="height:3px;background:linear-gradient(90deg,#0000ff,#0005ff 131px,#0020ff 206px,#0016ff 250px)"></i><i style="height:3px;background:linear-gradient(90deg,#0000ff,#0005ff 131px,#0020ff 205px,#0016ff 250px)"></i><i style="height:3px;background:linear-gradient(90deg,#0000ff,#0005ff 131px,#001fff 204px,#0016ff 250px)"></i><i style="height:3px;background:linear-gradient(90deg,#0000ff,#0005ff 131px,#001fff 203px,#0015ff 250px)"></i><i style="height:3px;background:linear-gradient(90deg,#0000ff,#0005ff 131px,#001fff 202px,#0015ff 250px)"></i><i style="height:3px;background:linear-gradient(90deg,#0000ff,#0005ff 131px,#001eff 201px,#0015ff 250px)"></i><i style="height:3px;background:linear-gradient(90deg,#0000ff,#0005ff 131px,#001eff 201px,#0014ff 250px)"></i><i style="height:3px;background:linear-gradient(90deg,#0000ff,#0006ff 132px,#001eff 204px,#0014ff 250px)"></i><i style="height:3px;background:linear-gradient(90deg,#0000ff,#0006ff 132px,#001dff 206px,#0013ff 250px)"></i><i style="height:3px;background:linear-gradient(90deg,#0000ff,#0006ff 133px,#001dff 208px,#0013ff 250px)"></i><i style="height:3px;background:linear-gradient(90deg,#0000ff,#0005ff 133px,#001cff 209px,#0012ff 250px)"></i><i style="height:3px;background:linear-gradient(90deg,#0000ff,#0006ff 134px,#001cff 210px,#0012ff 250px)"></i><i style="height:3px;background:linear-gradient(90deg,#0000ff,#0006ff 136px,#001bff 211px,#0011ff 250px)"></i><i style="height:3px;background:linear-gradient(90deg,#0000ff,#0006ff 137px,#001bff 212px,#0011ff 250px)"></i><i style="height:3px;background:linear-gradient(90deg,#0000ff,#0006ff 139px,#001aff 213px,#0010ff 250px)"></i><i style="height:3px;background:linear-gradient(90deg,#0000ff,#0006ff 141px,#0019ff 213px,#000fff 250px)"></i><i style="height:3px;background:linear-gradient(90deg,#0000ff,#0006ff 144px,#0019ff 214px,#000fff 250px)"></i><i style="height:3px;background:linear-gradient(90deg,#0000ff,#0006ff 147px,#0018ff 214px,#000eff 250px)"></i><i style="height:3px;background:linear-gradient(90deg,#0000ff,#0006ff 150px,#0017ff 214px,#000eff 250px)"></i><i style="height:3px;background:linear-gradient(90deg,#0000ff,#0007ff 154px,#0017ff 214px,#000dff 250px)"></i><i style="height:3px;background:linear-gradient(90deg,#0000ff,#0007ff 157px,#0016ff 215px,#000cff 250px)"></i><i style="height:3px;background:linear-gradient(90deg,#0000ff,#0007ff 160px,#0015ff 215px,#000cff 250px)"></i><i style="height:3px;background:linear-gradient(90deg,#0000ff,#0007ff 163px,#0014ff 216px,#000cff 250px)"></i><i style="height:3px;background:linear-gradient(90deg,#0000ff,#0006ff 164px,#0013ff 218px,#000bff 250px)"></i><i style="height:3px;background:linear-gradient(90deg,#0000ff,#0006ff 165px,#0011ff 220px,#000bff 250px)"></i><i style="height:3px;background:linear-gradient(90deg,#0000ff,#0006ff 165px,#0010ff 223px,#000bff 250px)"></i><i style="height:3px;background:linear-gradient(90deg,#0000ff,#0006ff 165px,#000eff 228px,#000aff 250px)"></i><i style="height:3px;background:linear-gradient(90deg,#0000ff,#0007ff 168px,#000bff 248px,#000aff 250px)"></i><i style="height:3px;background:linear-gradient(90deg,#0000ff,#000aff 250px)"></i><i style="height:2px;background:linear-gradient(90deg,#0000ff,#000dff 250px)"></i><i style="height:1px;background:linear-gradient(90deg,#0002ff,#000cff 141px,#001aff 250px)"></i><i style="height:1px;background:linear-gradient(90deg,#0004ff,#000aff 121px,#002eff 250px)"></i><i style="height:1px;background:linear-gradient(90deg,#0008ff,#000aff 115px,#0025ff 161px,#004aff 250px)"></i><i style="height:1px;background:linear-gradient(90deg,#000bff,#0006ff 62px,#000bff 113px,#0030ff 150px,#005dff 235px,#006bff 250px)"></i><i style="height:1px;background:linear-gradient(90deg,#0010ff,#0009ff 59px,#000bff 110px,#003eff 145px,#0074ff 229px,#0092ff 250px)"></i><i style="height:1px;background:linear-gradient(90deg,#0015ff,#000eff 54px,#0007ff 98px,#0017ff 115px,#004fff 140px,#0090ff 225px,#00c2ff 250px)"></i><i style="height:1px;background:linear-gradient(90deg,#001bff,#0015ff 46px,#0007ff 83px,#0012ff 108px,#0045ff 127px,#0067ff 138px,#008cff 183px,#00b0ff 223px,#00eeff 246px,#00fcff 250px)"></i><i style="height:1px;background:linear-gradient(90deg,#0021ff,#001bff 42px,#0009ff 79px,#0016ff 107px,#004fff 125px,#0081ff 137px,#00a2ff 169px,#00c8ff 217px,#00f2ff 234px,#00fff6 240px,#00ffc9 250px)"></i><i style="height:1px;background:linear-gradient(90deg,#0025ff,#0020ff 41px,#000aff 71px,#0014ff 104px,#004aff 121px,#0095ff 137px,#00b6ff 166px,#00daff 214px,#00fcff 229px,#00ffc1 244px,#00ffa0 250px)"></i><i style="height:1px;background:linear-gradient(90deg,#0027ff,#0022ff 40px,#000cff 66px,#0011ff 100px,#002aff 112px,#0070ff 128px,#009bff 137px,#00bcff 165px,#00dfff 213px,#00fffa 229px,#00ffb1 245px,#00ff94 250px)"></i><i style="height:1px;background:linear-gradient(90deg,#0024ff,#001fff 41px,#000aff 73px,#0015ff 105px,#004cff 122px,#0090ff 137px,#00b1ff 166px,#00d6ff 215px,#00faff 230px,#00ffdd 240px,#00ffaa 250px)"></i><i style="height:1px;background:linear-gradient(90deg,#0020ff,#0019ff 43px,#0008ff 80px,#0014ff 107px,#004aff 125px,#007aff 137px,#009bff 171px,#00c2ff 219px,#00f4ff 238px,#00fff7 243px,#00ffd9 250px)"></i><i style="height:1px;background:linear-gradient(90deg,#0019ff,#0012ff 48px,#0007ff 85px,#0012ff 109px,#0043ff 128px,#0062ff 140px,#00a6ff 223px,#00e2ff 247px,#00ebff 250px)"></i><i style="height:1px;background:linear-gradient(90deg,#0013ff,#000cff 56px,#0009ff 106px,#0031ff 128px,#004cff 144px,#0086ff 225px,#00b3ff 250px)"></i><i style="height:1px;background:linear-gradient(90deg,#000eff,#0008ff 59px,#000bff 111px,#0039ff 146px,#006dff 230px,#0086ff 250px)"></i><i style="height:1px;background:linear-gradient(90deg,#000aff,#0005ff 64px,#000bff 115px,#002cff 152px,#0057ff 238px,#0062ff 250px)"></i><i style="height:1px;background:linear-gradient(90deg,#0007ff,#000aff 117px,#0024ff 171px,#0042ff 250px)"></i><i style="height:1px;background:linear-gradient(90deg,#0004ff,#000aff 125px,#0028ff 250px)"></i><i style="height:1px;background:linear-gradient(90deg,#0001ff,#0012ff 219px,#0016ff 250px)"></i><i style="height:3px;background:linear-gradient(90deg,#0000ff,#000bff 250px)"></i><i style="height:3px;background:linear-gradient(90deg,#0000ff,#0008ff 250px)"></i><i style="height:3px;background:linear-gradient(90deg,#0000ff,#0007ff 250px)"></i><i style="height:3px;background:linear-gradient(90deg,#0000ff,#0006ff 250px)"></i><i style="height:3px;background:linear-gradient(90deg,#0000ff,#0005ff 250px)"></i><i style="height:3px;background:linear-gradient(90deg,#0000ff,#0004ff 250px)"></i><i style="height:3px;background:linear-gradient(90deg,#0000ff,#0004ff 250px)"></i><i style="height:3px;background:linear-gradient(90deg,#0000ff,#0003ff 250px)"></i><i style="height:3px;background:linear-gradient(90deg,#0000ff,#0002ff 250px)"></i><i style="height:3px;background:linear-gradient(90deg,#0000ff,#0002ff 250px)"></i><i style="height:3px;background:linear-gradient(90deg,#0000ff,#0001ff 250px)"></i><i style="height:3px;background:linear-gradient(90deg,#0000ff,#0001ff 250px)"></i><i style="height:3px;background:linear-gradient(90deg,#0000ff,#0001ff 250px)"></i><i style="height:3px;background:linear-gradient(90deg,#0000ff,#0001ff 250px)"></i><i style="height:3px;background:linear-gradient(90deg,#0000ff,#0000ff 250px)"></i><i style="height:3px;background:linear-gradient(90deg,#0000ff,#0000ff 250px)"></i><i style="height:3px;background:linear-gradient(90deg,#0000ff,#0000ff 250px)"></i><i style="height:3px;background:linear-gradient(90deg,#0000ff,#0000ff 250px)"></i><i style="height:3px;background:linear-gradient(90deg,#0000ff,#0000ff 250px)"></i><i style="height:3px;background:linear-gradient(90deg,#0000ff,#0000ff 250px)"></i></div>
<div class="f" style="left:614px;top:427px;width:29px;height:178px;background:linear-gradient(180deg,#0000ff 0%,#00ffff 27%,#00ff00 52%,#ffff00 77%,#ff2800 100%)"></div>
<svg width="685" height="858" viewBox="0 0 685 858">
<defs>
<marker id="ah" viewBox="0 0 10 7" refX="10" refY="3.5" markerWidth="10" markerHeight="7" markerUnits="userSpaceOnUse" orient="auto"><path d="M0,0L10,3.5L0,7z" fill="#000"/></marker>
</defs>
<!-- ===== (a) diagram ===== -->
<text x="48" y="17.3" font-size="25" font-weight="bold">(a)</text>
<g fill="#FFA3A3" stroke="#1e1e1e" stroke-width="1.1">
<polygon points="226.6,17.5 420,17.5 382,67 265,67"/>
<polygon points="243.8,274.8 282.4,223.5 399.4,223.5 437.5,274.8"/>
</g>
<g fill="none" stroke="#262626" stroke-width="1.2">
<path d="M245.7,116.8H97V17.5H584.5V116.8H425.5V175.5H584.5V274.8H97V175.5H245.7Z"/>
</g>
<rect x="227" y="124.5" width="216.5" height="43" fill="#5B9BD5"/>
<g stroke="#111" stroke-width="1.1" fill="none">
<!-- L dimension -->
<line x1="227" y1="103" x2="227" y2="124.8"/>
<line x1="441.6" y1="97.3" x2="441.6" y2="124.5"/>
<line x1="236" y1="110.8" x2="432" y2="111.6"/>
<line x1="227" y1="116.8" x2="245.7" y2="116.8"/>
<!-- H -->
<line x1="195.4" y1="117" x2="217.2" y2="117" stroke-width="1.6"/>
<line x1="206.3" y1="127" x2="206.3" y2="165.5"/>
<!-- l -->
<line x1="245.3" y1="153" x2="245.3" y2="166"/>
<line x1="425.5" y1="153" x2="425.5" y2="166"/>
<line x1="254" y1="159.7" x2="417" y2="159.7"/>
<!-- h -->
<line x1="443.5" y1="124.3" x2="465" y2="124.3"/>
<line x1="443.5" y1="167" x2="465" y2="167"/>
<line x1="453.7" y1="134" x2="453.7" y2="157"/>
<!-- a -->
<line x1="324.7" y1="175.4" x2="346.2" y2="175.4"/>
<line x1="335.5" y1="185" x2="335.5" y2="213.5"/>
<!-- alpha arc -->
<path d="M428.2,273.8 A5.7,5.7 0 0 1 428.9,262.8" stroke-width="0.9"/>
</g>
<g fill="#000">
<!-- arrowheads -->
<path d="M227.4,110.8l10.2,-3.3v6.6z"/>
<path d="M441,111.7l-10.2,-3.3v6.6z"/>
<path d="M206.3,117.3l-3.3,10.5h6.6z"/>
<path d="M206.3,175.3l-3.3,-10.5h6.6z"/>
<path d="M245.8,159.7l10.2,-3.3v6.6z"/>
<path d="M425,159.7l-10.2,-3.3v6.6z"/>
<path d="M453.7,124.6l-3.3,10.5h6.6z"/>
<path d="M453.7,166.7l-3.3,-10.5h6.6z"/>
<path d="M335.5,175.7l-3.3,10.5h6.6z"/>
<path d="M335.5,223.2l-3.3,-10.5h6.6z"/>
</g>
<g font-size="18" font-weight="bold" text-anchor="middle">
<text x="177.3" y="64.5">Port 3</text>
<text x="176.9" y="84.9">(MW transmitted)</text>
<text x="559" y="65.6">Port 4</text>
<text x="559" y="87">(open)</text>
<text x="140.5" y="217.1">Port 2</text>
<text x="140.3" y="238">(shorted)</text>
<text x="528.2" y="222.3">Port 1</text>
<text x="528.2" y="243.5">(MW input)</text>
</g>
<g font-size="30" font-style="italic">
<text x="326" y="106.1">L</text>
<text x="331" y="158.7">l</text>
<text transform="translate(194.4,157.7) rotate(-90)">H</text>
<text transform="translate(460.6,139.6) rotate(90)">h</text>
</g>
<g font-size="28">
<text transform="translate(315.5,206) rotate(-90)">a</text>
<text transform="translate(413.9,266.5) rotate(-90)">α</text>
</g>
<g id="dots" fill="#777"><rect x="6.5" y="430" width="1.3" height="1.3"/><rect x="6.5" y="437.3" width="1.3" height="1.3"/></g>
<g font-size="24" font-weight="bold"><text x="0" y="301">(b)</text><text x="305" y="301.5">(c)</text><text x="3.5" y="575">(d)</text><text x="305" y="578">(e)</text></g>
<rect x="47.0" y="314.5" width="254.4" height="225.5" fill="none" stroke="#1a1a1a" stroke-width="1.2"/>
<path d="M42.5,540.0H47.0M44.4,517.5H47.0M42.5,494.9H47.0M44.4,472.4H47.0M42.5,449.8H47.0M44.4,427.2H47.0M42.5,404.7H47.0M44.4,382.1H47.0M42.5,359.6H47.0M44.4,337.1H47.0M42.5,314.5H47.0M70.1,540.0V544.5M99.0,540.0V542.6M127.9,540.0V544.5M156.9,540.0V542.6M185.8,540.0V544.5M214.7,540.0V542.6M243.6,540.0V544.5M272.5,540.0V542.6M301.4,540.0V544.5" stroke="#1a1a1a" stroke-width="1.1" fill="none"/>
<g font-size="14.5" fill="#111">
<text x="41.5" y="544.3" text-anchor="end">100</text>
<text x="41.5" y="499.2" text-anchor="end">110</text>
<text x="41.5" y="454.1" text-anchor="end">120</text>
<text x="41.5" y="409.0" text-anchor="end">130</text>
<text x="41.5" y="363.9" text-anchor="end">140</text>
<text x="41.5" y="318.8" text-anchor="end">150</text>
<text x="69.6" y="558.0" text-anchor="middle">60</text>
<text x="127.4" y="558.0" text-anchor="middle">65</text>
<text x="185.3" y="558.0" text-anchor="middle">70</text>
<text x="243.1" y="558.0" text-anchor="middle">75</text>
<text x="300.9" y="558.0" text-anchor="middle">80</text>
</g>
<text x="155.8" y="573.4" font-size="18"><tspan font-style="italic">a</tspan> (mm)</text>
<text transform="translate(21.0,461.0) rotate(-90)" font-size="18"><tspan font-style="italic">l</tspan> (mm)</text>
<rect x="348.2" y="315.4" width="245.0" height="226.6" fill="none" stroke="#1a1a1a" stroke-width="1.2"/>
<path d="M343.7,542.0H348.2M345.6,519.3H348.2M343.7,496.7H348.2M345.6,474.0H348.2M343.7,451.4H348.2M345.6,428.7H348.2M343.7,406.0H348.2M345.6,383.4H348.2M343.7,360.7H348.2M345.6,338.1H348.2M343.7,315.4H348.2M370.5,542.0V546.5M398.3,542.0V544.6M426.2,542.0V546.5M454.0,542.0V544.6M481.8,542.0V546.5M509.7,542.0V544.6M537.5,542.0V546.5M565.4,542.0V544.6M593.2,542.0V546.5" stroke="#1a1a1a" stroke-width="1.1" fill="none"/>
<g font-size="14.5" fill="#111">
<text x="342.7" y="546.3" text-anchor="end">100</text>
<text x="342.7" y="501.0" text-anchor="end">110</text>
<text x="342.7" y="455.7" text-anchor="end">120</text>
<text x="342.7" y="410.3" text-anchor="end">130</text>
<text x="342.7" y="365.0" text-anchor="end">140</text>
<text x="342.7" y="319.7" text-anchor="end">150</text>
<text x="370.0" y="559.5" text-anchor="middle">60</text>
<text x="425.7" y="559.5" text-anchor="middle">65</text>
<text x="481.3" y="559.5" text-anchor="middle">70</text>
<text x="537.0" y="559.5" text-anchor="middle">75</text>
<text x="592.7" y="559.5" text-anchor="middle">80</text>
</g>
<text x="451.1" y="580.1" font-size="18"><tspan font-style="italic">a</tspan> (mm)</text>
<text transform="translate(321.0,447.5) rotate(-90)" font-size="18"><tspan font-style="italic">l</tspan> (mm)</text>
<rect x="49.4" y="593.8" width="245.1" height="225.5" fill="none" stroke="#1a1a1a" stroke-width="1.2"/>
<path d="M44.9,819.3H49.4M46.8,796.8H49.4M44.9,774.2H49.4M46.8,751.6H49.4M44.9,729.1H49.4M46.8,706.5H49.4M44.9,684.0H49.4M46.8,661.4H49.4M44.9,638.9H49.4M46.8,616.3H49.4M44.9,593.8H49.4M71.7,819.3V823.8M99.5,819.3V821.9M127.4,819.3V823.8M155.2,819.3V821.9M183.1,819.3V823.8M210.9,819.3V821.9M238.8,819.3V823.8M266.6,819.3V821.9M294.5,819.3V823.8" stroke="#1a1a1a" stroke-width="1.1" fill="none"/>
<g font-size="14.5" fill="#111">
<text x="43.9" y="823.6" text-anchor="end">100</text>
<text x="43.9" y="778.5" text-anchor="end">110</text>
<text x="43.9" y="733.4" text-anchor="end">120</text>
<text x="43.9" y="688.3" text-anchor="end">130</text>
<text x="43.9" y="643.2" text-anchor="end">140</text>
<text x="43.9" y="598.1" text-anchor="end">150</text>
<text x="71.2" y="837.3" text-anchor="middle">60</text>
<text x="126.9" y="837.3" text-anchor="middle">65</text>
<text x="182.6" y="837.3" text-anchor="middle">70</text>
<text x="238.3" y="837.3" text-anchor="middle">75</text>
<text x="294.0" y="837.3" text-anchor="middle">80</text>
</g>
<text x="147.1" y="852.8" font-size="18"><tspan font-style="italic">a</tspan> (mm)</text>
<text transform="translate(20.0,732.5) rotate(-90)" font-size="18"><tspan font-style="italic">L</tspan> (mm)</text>
<rect x="344.2" y="595.3" width="251.1" height="218.6" fill="none" stroke="#1a1a1a" stroke-width="1.2"/>
<path d="M339.7,813.9H344.2M341.6,792.0H344.2M339.7,770.2H344.2M341.6,748.3H344.2M339.7,726.5H344.2M341.6,704.6H344.2M339.7,682.7H344.2M341.6,660.9H344.2M339.7,639.0H344.2M341.6,617.2H344.2M339.7,595.3H344.2M367.0,813.9V818.4M395.6,813.9V816.5M424.1,813.9V818.4M452.6,813.9V816.5M481.2,813.9V818.4M509.7,813.9V816.5M538.2,813.9V818.4M566.8,813.9V816.5M595.3,813.9V818.4" stroke="#1a1a1a" stroke-width="1.1" fill="none"/>
<g font-size="14.5" fill="#111">
<text x="336.2" y="818.2" text-anchor="end">100</text>
<text x="336.2" y="774.5" text-anchor="end">110</text>
<text x="336.2" y="730.8" text-anchor="end">120</text>
<text x="336.2" y="687.0" text-anchor="end">130</text>
<text x="336.2" y="643.3" text-anchor="end">140</text>
<text x="336.2" y="599.6" text-anchor="end">150</text>
<text x="369.4" y="829.7" text-anchor="middle">60</text>
<text x="426.5" y="829.7" text-anchor="middle">65</text>
<text x="483.6" y="829.7" text-anchor="middle">70</text>
<text x="540.6" y="829.7" text-anchor="middle">75</text>
<text x="597.7" y="829.7" text-anchor="middle">80</text>
</g>
<text x="444.5" y="849.0" font-size="18"><tspan font-style="italic">a</tspan> (mm)</text>
<text transform="translate(314.5,729.7) rotate(-90)" font-size="18"><tspan font-style="italic">l</tspan> (mm)</text>
<g font-size="18.3" font-weight="bold" text-anchor="middle"><text x="179.9" y="334.3" fill="#fff">Reflectance</text><text x="179.5" y="355.3" fill="#fff">(P<tspan font-size="12" dy="2.7">1-1</tspan><tspan dy="-2.7">)</tspan></text><text x="463.7" y="336" fill="#000">Transmittance</text><text x="463.4" y="357.7" fill="#000">(P<tspan font-size="12" dy="2.7">1-3</tspan><tspan dy="-2.7">)</tspan></text><text x="171.3" y="610.2" fill="#fff">Leakage</text><text x="171.4" y="632.4" fill="#fff">(P<tspan font-size="12" dy="2.7">1-4</tspan><tspan dy="-2.7">)</tspan></text><text x="466.3" y="614.5" fill="#fff" font-size="18.4">Insertion loss</text><text x="471" y="635.6" fill="#fff" font-size="18">(Loss of the glass window)</text></g>
<polygon points="77.4,430.3 79.6,437.2 86.9,437.2 81.0,441.5 83.3,448.4 77.4,444.1 71.5,448.4 73.8,441.5 67.9,437.2 75.2,437.2" fill="#c4c4f2"/>
<polygon points="379.2,431.8 381.4,438.7 388.7,438.7 382.8,443.0 385.1,449.9 379.2,445.6 373.3,449.9 375.6,443.0 369.7,438.7 377.0,438.7" fill="#f8c8c8"/>
<polygon points="80.4,708.2 82.6,715.1 89.9,715.1 84.0,719.4 86.3,726.3 80.4,722.0 74.5,726.3 76.8,719.4 70.9,715.1 78.2,715.1" fill="#b4b4f0"/>
<polygon points="374.1,707.6 376.3,714.4 383.5,714.4 377.7,718.7 379.9,725.5 374.1,721.3 368.3,725.5 370.5,718.7 364.7,714.4 371.9,714.4" fill="#b4b4f0"/>
<g font-size="18.2"><text x="96.1" y="446.3" fill="#fff">0.20%</text><text x="392.4" y="450.7" fill="#000" font-size="18.5">97.11%</text><text x="78.8" y="710.6" fill="#fff">0.97%</text><text x="386.4" y="722.8" fill="#fff">1.72%</text></g>
<g font-size="18.5"><text x="656.5" y="441.9">0</text><text x="644.5" y="483">25%</text><text x="644.5" y="523.8">50%</text><text x="644.5" y="564.8">75%</text><text x="642.5" y="605.4">100%</text></g>
<rect x="599.5" y="815" width="12" height="18" fill="#fff"/>
</svg>
</body></html>
